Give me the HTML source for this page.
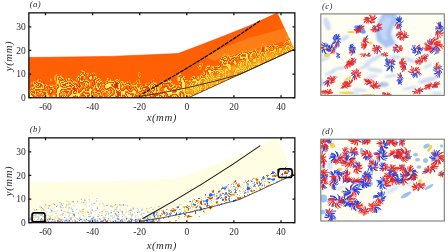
<!DOCTYPE html><html><head><meta charset="utf-8"><style>html,body{margin:0;padding:0;background:#fff;width:448px;height:252px;overflow:hidden}svg{display:block}text{font-family:"Liberation Serif",serif;fill:#2a2a2a}</style></head><body>
<svg width="448" height="252" viewBox="0 0 448 252" style="opacity:0.999">
<defs>
<clipPath id="ca"><rect x="28.85" y="12.85" width="266.0" height="84.9"/></clipPath>
<clipPath id="cb"><rect x="28.85" y="137.85" width="266.0" height="84.9"/></clipPath>
<clipPath id="da"><polygon points="15.0,57.5 28.5,57.4 50.0,57.3 110.0,56.4 145.0,55.0 178.0,53.6 200.0,45.2 225.0,35.6 250.0,25.6 277.4,12.8 294.5,49.3 188.7,97.7 15.0,97.7"/></clipPath>
<clipPath id="db"><polygon points="15.0,182.5 28.5,182.4 50.0,182.3 110.0,181.4 145.0,180.0 178.0,178.6 200.0,170.2 225.0,160.6 250.0,150.6 277.4,137.8 294.5,174.3 188.7,222.7 15.0,222.7"/></clipPath>
<clipPath id="cc"><rect x="320.6" y="13.9" width="123.6" height="81.5"/></clipPath>
<clipPath id="cd"><rect x="320.6" y="139.2" width="123.6" height="81.8"/></clipPath>
<filter id="ft" filterUnits="userSpaceOnUse" x="15" y="5" width="295" height="115" color-interpolation-filters="sRGB">
<feGaussianBlur in="SourceGraphic" stdDeviation="3.5" result="g"/>
<feTurbulence type="fractalNoise" baseFrequency="0.14 0.1" numOctaves="1" seed="4" result="n"/>
<feColorMatrix in="n" type="matrix" values="1 0 0 0 0 1 0 0 0 0 1 0 0 0 0 0 0 0 0 1" result="ng"/>
<feComposite in="g" in2="ng" operator="arithmetic" k2="0.58" k3="1.2" k4="-0.45" result="f"/>
<feComponentTransfer in="f"><feFuncR type="discrete" tableValues="1 1 1 1 1 1 1 1 1 1 1 1 1 1 1 1 1 1 0.95 1 1 1 0.95 1 1 1 0.95 1 0.95 0.9"/><feFuncG type="discrete" tableValues="0.38 0.38 0.38 0.38 0.38 0.38 0.38 0.38 0.38 0.38 0.38 0.38 0.38 0.38 0.62 0.38 0.86 0.47 0.24 0.86 0.47 0.38 0.24 0.86 0.94 0.47 0.24 0.86 0.24 0.14"/><feFuncB type="discrete" tableValues="0.02 0.02 0.02 0.02 0.02 0.02 0.02 0.02 0.02 0.02 0.02 0.02 0.02 0.02 0.1 0.02 0.22 0.04 0.02 0.22 0.04 0.02 0.02 0.22 0.45 0.04 0.02 0.22 0.02 0"/><feFuncA type="table" tableValues="1 1"/></feComponentTransfer>
<feGaussianBlur stdDeviation="0.5"/>
</filter>
<filter id="fbl" x="-0.1" y="-0.1" width="1.2" height="1.2"><feGaussianBlur stdDeviation="2"/></filter><filter id="fbl1" x="-0.2" y="-0.2" width="1.4" height="1.4"><feGaussianBlur stdDeviation="0.8"/></filter>
<filter id="fdots" filterUnits="userSpaceOnUse" x="15" y="130" width="295" height="115" color-interpolation-filters="sRGB">
<feGaussianBlur in="SourceGraphic" stdDeviation="2.5" result="g"/>
<feTurbulence type="fractalNoise" baseFrequency="0.32" numOctaves="1" seed="9" result="t"/>
<feColorMatrix in="t" type="matrix" values="0 1 0 0 0 0 1 0 0 0 0 1 0 0 0 0 0 0 0 1" result="tg"/>
<feComposite in="g" in2="tg" operator="arithmetic" k2="0.7" k3="1.5" k4="-0.78" result="p"/>
<feColorMatrix in="p" type="matrix" values="0 0 0 0 1 0 0 0 0 1 0 0 0 0 1 1 0 0 0 0" result="pa"/>
<feComponentTransfer in="pa" result="mask"><feFuncA type="discrete" tableValues="0 0 0 0 0 1 1 1 1 1"/></feComponentTransfer>
<feColorMatrix in="t" type="matrix" values="2.5 0 0 0 -.75 2.5 0 0 0 -.75 2.5 0 0 0 -.75 0 0 0 0 1" result="tr"/>
<feComponentTransfer in="tr" result="col"><feFuncR type="discrete" tableValues="0.2 0.45 0.45 0.72 1 1 1 0.97 0.95 0.9"/><feFuncG type="discrete" tableValues="0.4 0.62 0.62 0.82 1 1 0.95 0.82 0.55 0.28"/><feFuncB type="discrete" tableValues="0.9 0.95 0.95 0.97 1 1 0.6 0.25 0.18 0.1"/></feComponentTransfer>
<feComposite in="col" in2="mask" operator="in" result="cm"/>
<feGaussianBlur in="cm" stdDeviation="0.35"/>
</filter>
</defs>
<g clip-path="url(#ca)"><g clip-path="url(#da)">
<g filter="url(#ft)"><rect x="15" y="5" width="295" height="115" fill="#000"/><polygon points="15.0,86.0 28.0,85.5 40.0,81.0 49.0,79.0 65.0,77.4 80.0,76.0 88.0,71.0 92.0,69.4 97.0,74.0 100.0,78.8 116.0,80.0 135.0,81.4 148.0,83.5 165.0,81.5 181.0,77.5 192.0,72.5 200.0,68.5 215.0,61.0 225.0,55.0 248.0,51.5 272.0,44.0 289.0,39.5 300.0,36.5 310.0,30.0 310.0,115.0 15.0,115.0" fill="#fff"/></g>
<polygon points="205.0,57.0 225.0,47.0 248.0,38.2 284.0,28.4 300.0,24.0 300.0,37.0 289.0,40.0 272.0,44.5 248.0,52.0 225.0,55.5 215.0,61.0" fill="#ff8a1e" opacity="0.7"/>
<polygon points="185.0,85.6 190.0,84.1 195.0,81.7 200.0,79.3 205.0,76.9 210.0,74.5 215.0,72.1 220.0,69.4 225.0,66.7 230.0,65.3 235.0,63.8 240.0,62.4 245.0,61.0 250.0,59.3 255.0,57.4 260.0,55.5 265.0,53.7 270.0,51.8 275.0,50.0 280.0,48.2 285.0,46.4 290.0,44.7 295.0,42.9 300.0,48.8 185.0,99.7" fill="#ffdc38" opacity="0.55" filter="url(#fbl)"/>
</g>
<polyline points="28.5,57.4 50.0,57.3 110.0,56.4 145.0,55.0 178.0,53.6 200.0,45.2 225.0,35.6 250.0,25.6 277.4,12.8" fill="none" stroke="#f04a00" stroke-width="0.6"/>
<path d="M141,96.2 Q185,90 240,74.3 L296,48.6" fill="none" stroke="#3a3a14" stroke-width="1"/>
<path d="M188.7,97.7 L294.5,49.3" fill="none" stroke="#302000" stroke-width="0.7"/>
<path d="M142.4,93.7 Q205.3,59.1 260.3,20.6" fill="none" stroke="#111" stroke-width="1.3" stroke-dasharray="4,0.8"/>
</g>
<g clip-path="url(#cb)"><g clip-path="url(#db)">
<polygon points="15.0,182.5 28.5,182.4 50.0,182.3 110.0,181.4 145.0,180.0 178.0,178.6 200.0,170.2 225.0,160.6 250.0,150.6 277.4,137.8 294.5,174.3 188.7,222.7 15.0,222.7" fill="#fffde2"/>
<polygon points="15.0,214.0 20.0,213.8 25.0,213.6 30.0,212.8 35.0,210.9 40.0,209.0 45.0,207.9 50.0,206.9 55.0,206.4 60.0,205.9 65.0,205.4 70.0,204.9 75.0,204.5 80.0,204.0 85.0,200.9 90.0,198.2 95.0,200.2 100.0,206.8 105.0,207.2 110.0,207.6 115.0,207.9 120.0,208.3 125.0,208.7 130.0,209.0 135.0,209.4 140.0,210.2 145.0,211.0 150.0,211.3 155.0,210.7 160.0,210.1 165.0,209.5 170.0,208.2 175.0,207.0 180.0,205.8 185.0,203.7 190.0,201.4 195.0,199.0 200.0,196.5 205.0,194.0 210.0,191.5 215.0,189.0 220.0,186.0 225.0,183.0 230.0,182.2 235.0,181.5 240.0,180.7 245.0,180.0 250.0,178.9 255.0,177.3 260.0,175.8 265.0,174.2 270.0,172.6 275.0,171.2 280.0,169.9 285.0,168.6 290.0,167.2 295.0,165.9 300.0,225.0 15.0,225.0" fill="#ffffff" opacity="0.7" filter="url(#fbl)"/>
<g filter="url(#fdots)"><rect x="15" y="130" width="295" height="115" fill="#000"/><polygon points="15.0,213.5 28.0,213.0 40.0,208.5 49.0,206.5 65.0,204.9 80.0,203.5 88.0,198.5 92.0,196.9 97.0,201.5 100.0,206.3 116.0,207.5 135.0,208.9 148.0,211.0 165.0,209.0 181.0,205.0 192.0,200.0 200.0,196.0 215.0,188.5 225.0,182.5 248.0,179.0 272.0,171.5 289.0,167.0 300.0,164.0 310.0,155.0 310.0,240.0 15.0,240.0" fill="#fff"/><polygon points="15.0,125.0 150.0,125.0 150.0,255.0 15.0,255.0" fill="#000" opacity="1"/><path d="M141,222.7 Q185,216.5 240,200.8 L300,172.5 L300,255 L141,255Z" fill="#000" opacity="0.55"/></g>
<path d="M149.0 217.5h.2M126.1 209.0h.2M15.1 211.8h.2M130.6 215.8h.2M45.6 208.1h.2M45.9 210.3h.2M68.9 202.5h.2M105.6 214.6h.2M120.6 211.6h.2M84.7 208.5h.2M46.0 213.8h.2M141.6 213.4h.2M54.5 211.5h.2M98.1 214.4h.2M102.8 204.0h.2M115.2 215.8h.2M51.3 215.6h.2M52.6 207.9h.2M62.4 215.5h.2M41.3 211.7h.2M106.3 214.3h.2M111.6 213.1h.2M92.3 193.7h.2M103.6 204.8h.2M68.0 211.9h.2M102.5 213.6h.2M81.1 213.1h.2M67.1 211.2h.2M25.8 213.4h.2M26.4 217.4h.2M68.1 210.4h.2M51.0 218.7h.2M131.2 216.4h.2M84.6 199.0h.2M139.3 211.4h.2M52.2 210.7h.2M41.1 209.3h.2M74.0 203.4h.2M90.4 211.4h.2M33.0 217.7h.2M91.3 218.4h.2M145.0 211.0h.2M87.5 212.3h.2M21.1 216.7h.2M67.8 201.8h.2M55.6 218.0h.2M116.5 218.5h.2M18.4 212.1h.2M72.1 215.7h.2M68.6 209.3h.2M31.4 213.2h.2M97.3 209.0h.2M155.7 213.9h.2M157.2 213.7h.2M85.2 204.5h.2M158.0 207.6h.2M98.6 217.9h.2M158.5 214.8h.2M115.0 213.1h.2M70.8 213.2h.2M89.7 209.6h.2M86.2 202.8h.2M41.2 212.8h.2M33.7 208.8h.2M113.1 205.8h.2M158.9 210.6h.2M18.5 217.9h.2M46.6 215.3h.2M68.3 216.2h.2M68.5 213.1h.2M130.4 208.9h.2M99.1 209.8h.2M147.9 212.5h.2M124.0 217.7h.2M83.5 216.3h.2M137.1 215.6h.2M103.4 210.1h.2M91.3 207.6h.2M156.8 212.3h.2M21.0 216.7h.2M61.0 205.7h.2M147.2 208.6h.2M63.3 215.4h.2M120.4 210.8h.2M80.7 212.1h.2M81.0 203.9h.2M75.9 212.9h.2M54.0 207.4h.2M74.9 215.4h.2M123.0 218.5h.2M25.8 210.2h.2M89.6 200.6h.2M46.4 215.6h.2M150.6 216.5h.2M106.0 211.4h.2M22.1 210.1h.2M39.4 216.3h.2M138.1 216.2h.2M85.2 214.9h.2M45.9 207.1h.2M30.8 215.6h.2M44.9 214.4h.2M69.3 218.4h.2M112.1 215.9h.2M154.1 218.4h.2M96.8 206.3h.2M25.1 214.2h.2M34.9 217.0h.2M78.4 216.1h.2M57.2 212.0h.2M84.7 202.0h.2M18.5 214.0h.2M86.5 206.0h.2M112.7 215.9h.2M139.4 212.3h.2M121.1 206.3h.2M48.1 217.1h.2M81.6 212.1h.2M67.7 206.8h.2M158.7 208.9h.2M89.0 195.5h.2M36.3 217.4h.2M34.9 215.9h.2M38.2 209.9h.2M52.6 214.9h.2M128.5 211.8h.2M117.0 205.0h.2M146.7 215.3h.2M78.6 213.5h.2M159.4 206.3h.2M43.4 210.8h.2M152.0 212.5h.2M114.7 216.1h.2M73.5 213.2h.2M114.2 210.1h.2M51.7 204.4h.2M101.4 213.3h.2M108.6 208.2h.2M61.2 217.0h.2M135.3 216.0h.2M113.5 205.5h.2M94.9 215.0h.2M124.4 218.1h.2M84.5 205.8h.2M113.8 217.7h.2M76.4 203.0h.2M20.6 212.7h.2M97.1 207.8h.2M125.1 213.4h.2M40.7 213.8h.2M58.2 202.8h.2M91.9 203.5h.2M116.9 208.7h.2M42.1 215.9h.2M154.1 207.7h.2M127.8 211.8h.2M57.6 217.5h.2M121.9 218.3h.2M118.6 211.7h.2M69.4 201.0h.2M141.1 208.0h.2M38.8 214.0h.2M152.1 213.9h.2M75.0 206.1h.2" stroke="#f8e890" stroke-width="1.1" stroke-linecap="round"/>
<path d="M28.6 222.0h.2M101.5 221.2h.2M52.1 219.7h.2M44.4 206.8h.2M106.2 213.6h.2M146.4 208.9h.2M131.0 219.5h.2M35.4 217.2h.2M139.2 212.5h.2M143.7 220.8h.2M129.5 218.5h.2M155.4 217.3h.2M157.1 215.3h.2M132.4 215.1h.2M26.8 214.9h.2M56.0 218.7h.2M131.6 216.1h.2M109.1 220.8h.2M72.2 201.9h.2M147.7 211.5h.2M58.2 218.1h.2M35.4 214.2h.2M30.4 217.9h.2M110.5 212.7h.2M83.1 211.4h.2M48.2 205.5h.2M158.2 217.9h.2M103.2 217.4h.2M87.3 211.1h.2M78.0 219.9h.2M39.9 221.4h.2M155.7 217.6h.2M158.0 218.0h.2M143.5 219.0h.2M59.7 202.2h.2M150.8 212.7h.2M117.5 211.7h.2M36.3 220.4h.2M74.6 219.8h.2M118.8 219.4h.2M32.2 220.5h.2M56.1 213.4h.2M32.2 219.7h.2M159.1 209.6h.2M106.3 214.2h.2M66.8 201.4h.2M27.8 219.8h.2M74.9 221.3h.2M77.4 222.1h.2M135.6 219.8h.2M107.6 205.4h.2M98.4 222.0h.2M63.3 203.3h.2M114.9 205.4h.2M48.8 218.7h.2M34.6 219.8h.2M18.5 213.2h.2M71.1 207.9h.2M70.0 213.4h.2M152.1 221.7h.2M22.5 221.6h.2M45.7 220.8h.2M131.0 209.8h.2M141.3 221.3h.2M130.4 213.9h.2M154.1 218.5h.2M25.9 215.5h.2M92.9 216.9h.2M83.7 216.1h.2M47.8 220.7h.2M24.1 222.2h.2M40.6 213.5h.2M89.2 199.6h.2M40.1 207.8h.2M125.0 222.1h.2M49.8 205.5h.2M96.9 220.8h.2M19.9 218.8h.2M151.3 219.2h.2M41.9 208.7h.2M64.9 211.6h.2M23.5 216.8h.2M57.1 215.9h.2M34.2 209.9h.2M150.6 221.6h.2M61.0 209.9h.2M63.8 211.0h.2M66.1 206.4h.2M51.4 221.8h.2M144.3 220.7h.2M136.1 221.5h.2M133.8 220.6h.2M127.7 222.0h.2M33.0 220.6h.2M17.8 221.3h.2M118.9 211.3h.2M88.9 213.0h.2M136.5 222.1h.2M158.7 214.0h.2M47.9 217.9h.2M65.7 207.5h.2M113.3 211.6h.2M22.0 219.2h.2M90.2 220.7h.2M103.8 217.0h.2M104.9 209.3h.2M94.2 219.6h.2M50.0 216.1h.2M154.9 222.2h.2M126.2 216.7h.2M24.9 210.9h.2M38.3 221.9h.2M65.5 215.0h.2M151.4 219.9h.2M124.9 221.9h.2M90.9 222.1h.2M21.1 221.9h.2M83.0 213.3h.2M39.3 214.2h.2M122.4 222.0h.2M82.0 211.3h.2M46.3 218.9h.2M95.0 222.0h.2M85.1 212.0h.2M26.4 222.0h.2M40.1 221.8h.2M57.6 205.3h.2M156.6 215.1h.2M157.1 216.8h.2M84.5 219.6h.2M33.3 216.8h.2M154.0 211.9h.2M97.2 218.9h.2M63.1 219.6h.2M135.6 222.2h.2M133.3 209.3h.2" stroke="#f2cf3c" stroke-width="1.1" stroke-linecap="round"/>
<path d="M115.5 204.5h.2M81.3 199.3h.2M132.4 214.0h.2M30.3 218.6h.2M96.3 201.0h.2M49.2 205.8h.2M83.5 202.6h.2M106.6 205.4h.2M150.1 218.1h.2M122.0 211.6h.2M150.3 217.3h.2M15.1 214.0h.2M50.4 217.9h.2M68.8 204.1h.2M142.9 217.3h.2M145.9 216.9h.2M104.0 218.2h.2M42.8 208.5h.2M53.2 203.7h.2M118.3 216.3h.2M152.9 209.4h.2M83.1 209.4h.2M121.8 205.1h.2M27.7 218.2h.2" stroke="#f0a040" stroke-width="1.1" stroke-linecap="round"/>
<path d="M37.8 216.7h.2M76.1 222.1h.2M104.1 205.7h.2M40.6 215.5h.2M35.4 222.2h.2M142.6 216.0h.2M55.1 217.1h.2M114.3 217.0h.2M16.6 215.3h.2M151.9 214.9h.2M85.7 204.2h.2M149.2 212.5h.2M43.1 212.7h.2M69.5 215.0h.2M145.9 220.1h.2M149.4 222.1h.2M43.3 216.4h.2M126.0 212.1h.2M69.5 220.2h.2M77.3 201.2h.2M44.5 216.1h.2M121.5 221.8h.2M124.2 220.5h.2M105.4 215.5h.2M126.5 218.1h.2M77.0 221.8h.2M114.4 210.3h.2M147.4 212.0h.2M131.3 218.3h.2M133.5 220.5h.2M85.0 222.0h.2M27.0 215.0h.2M147.9 211.6h.2M16.8 215.3h.2M96.8 222.2h.2M130.9 214.7h.2M119.9 209.2h.2M71.0 217.5h.2M67.4 221.6h.2M135.5 216.2h.2M35.7 216.2h.2M108.0 212.7h.2M124.0 214.9h.2M72.6 213.5h.2M83.5 219.1h.2M22.3 215.0h.2M92.0 210.1h.2M27.6 214.3h.2M153.0 212.2h.2M20.7 212.0h.2M72.0 217.2h.2M48.3 215.3h.2M20.8 216.2h.2M90.3 216.4h.2M20.9 217.1h.2M60.3 215.0h.2M73.8 205.3h.2M140.9 214.9h.2M142.6 208.9h.2M59.7 202.7h.2M42.9 212.9h.2M155.5 219.6h.2M130.5 212.5h.2M33.2 214.8h.2M150.4 217.8h.2M61.9 214.4h.2M16.5 210.8h.2M117.3 206.8h.2M66.3 204.5h.2M28.7 214.4h.2M46.8 211.8h.2M32.0 219.4h.2M77.5 218.7h.2M80.0 217.1h.2M112.4 218.1h.2M83.0 215.6h.2M32.4 222.2h.2M33.8 217.4h.2M127.7 218.3h.2M138.4 209.9h.2M19.1 220.6h.2M72.2 209.4h.2M68.9 216.0h.2M16.3 210.6h.2M32.1 213.8h.2M31.4 220.3h.2M157.2 213.6h.2M146.9 217.8h.2M124.2 219.8h.2M131.8 210.9h.2M127.4 222.1h.2M97.1 220.2h.2M110.3 206.6h.2M97.0 198.4h.2M141.5 214.3h.2M90.6 212.7h.2M91.4 213.4h.2M117.2 216.9h.2M70.2 203.9h.2M38.2 215.9h.2M137.7 221.2h.2M81.7 202.2h.2M56.9 210.7h.2M99.6 204.0h.2M155.7 218.3h.2M131.2 210.1h.2M105.3 211.2h.2M92.6 205.1h.2M91.5 204.0h.2M117.4 217.8h.2M33.6 218.0h.2M32.4 221.1h.2M17.4 214.4h.2M158.1 211.8h.2M116.4 207.6h.2M39.9 212.7h.2M28.8 220.0h.2M158.6 206.4h.2M36.5 214.8h.2M17.6 216.2h.2M96.0 210.5h.2M61.6 207.4h.2M134.4 212.7h.2M88.7 214.5h.2M35.8 216.3h.2M128.2 214.3h.2M53.1 211.7h.2M107.5 211.5h.2M76.0 217.7h.2M122.5 212.9h.2M38.5 218.5h.2M69.0 212.2h.2M46.0 214.3h.2M76.6 209.4h.2M17.2 217.1h.2M20.1 220.1h.2M111.7 216.1h.2M82.0 210.1h.2M118.1 215.3h.2M151.0 207.4h.2M22.2 219.8h.2M102.9 203.3h.2M115.6 213.7h.2M16.6 220.1h.2M72.3 210.8h.2M47.8 219.7h.2M91.0 212.4h.2M26.0 210.7h.2M79.7 210.1h.2M98.9 215.1h.2M68.2 222.2h.2M141.8 213.6h.2M120.4 221.4h.2M24.7 222.1h.2M66.3 218.6h.2M110.4 215.8h.2M50.4 209.2h.2M75.4 221.6h.2M125.8 205.1h.2M138.8 218.2h.2M74.2 216.4h.2M99.4 212.5h.2M31.4 216.2h.2M62.0 214.3h.2M43.0 216.3h.2M66.9 205.0h.2M78.4 212.9h.2M17.2 213.5h.2M49.8 216.7h.2M131.8 215.3h.2M128.9 210.9h.2M89.2 205.9h.2M122.1 214.1h.2M47.1 222.2h.2M111.1 210.4h.2M50.9 212.6h.2M80.1 211.5h.2M129.7 222.2h.2M114.0 211.4h.2M149.9 216.1h.2M67.8 212.8h.2M80.1 219.2h.2M26.5 218.4h.2M30.4 217.4h.2M23.0 215.1h.2M71.2 208.9h.2M25.9 214.8h.2M116.7 211.1h.2M40.0 206.2h.2M125.5 222.0h.2M44.7 217.5h.2M67.0 212.7h.2M92.1 218.0h.2M127.3 205.8h.2M77.7 201.9h.2M125.1 221.8h.2M26.0 220.1h.2M105.0 217.1h.2M93.0 211.1h.2M40.1 214.4h.2M35.7 215.6h.2M148.9 208.2h.2M66.5 205.1h.2M118.9 214.2h.2M52.0 210.9h.2M15.9 221.8h.2M45.5 221.2h.2M103.8 220.9h.2M111.0 205.6h.2M117.3 222.2h.2M63.2 207.7h.2M23.0 213.7h.2M138.0 219.0h.2M41.5 210.2h.2M110.1 218.9h.2M122.5 216.6h.2M34.8 210.0h.2M137.8 208.2h.2" stroke="#a8c8f4" stroke-width="1.1" stroke-linecap="round"/>
<path d="M42.6 222.2h.2M152.6 221.0h.2M38.2 221.4h.2M72.4 220.9h.2M142.7 222.2h.2M110.3 222.2h.2M131.6 221.1h.2M41.1 222.2h.2M46.2 221.2h.2M38.8 221.0h.2M24.1 222.1h.2M141.1 220.7h.2M105.7 220.7h.2M65.8 222.2h.2M54.5 220.0h.2M40.5 220.5h.2M59.5 221.6h.2M89.6 222.2h.2M106.6 221.9h.2M75.1 220.3h.2M61.7 219.7h.2M23.4 222.2h.2M106.8 222.2h.2M58.9 218.7h.2M30.9 219.2h.2M115.7 221.0h.2M34.9 221.6h.2M141.3 222.2h.2M29.9 222.0h.2M41.8 221.2h.2M67.8 219.8h.2M35.4 222.1h.2M141.7 220.3h.2M129.0 220.2h.2M89.6 221.2h.2M151.5 221.3h.2M153.1 221.3h.2M34.9 222.0h.2M107.2 222.1h.2M43.2 220.0h.2M69.1 221.9h.2M105.3 219.5h.2M103.7 222.1h.2" stroke="#f08a28" stroke-width="1.1" stroke-linecap="round"/>
<path d="M60.7 219.7h.2M32.1 221.9h.2M31.9 221.2h.2M17.4 219.1h.2M157.4 222.0h.2M17.8 219.0h.2M135.3 221.6h.2M42.4 221.8h.2M97.5 220.9h.2M52.2 222.1h.2M57.9 220.4h.2M20.3 221.5h.2M101.2 221.1h.2M37.8 219.8h.2M60.2 221.9h.2M28.1 221.7h.2M105.9 221.9h.2M152.9 220.8h.2M118.0 221.2h.2M23.9 219.9h.2M140.1 219.1h.2M115.2 220.2h.2M118.7 219.0h.2M57.4 220.7h.2M100.0 219.3h.2M49.4 219.4h.2M89.5 221.9h.2M159.1 219.8h.2M131.0 221.3h.2M68.0 222.1h.2M144.4 222.0h.2M120.1 222.2h.2M113.6 221.8h.2M130.5 219.1h.2M21.7 222.0h.2M94.4 220.1h.2M22.7 221.0h.2M120.4 220.5h.2M92.9 218.7h.2M152.6 219.4h.2M25.4 220.1h.2M152.3 221.0h.2M82.4 222.2h.2M87.9 220.5h.2M70.7 222.2h.2M50.0 222.0h.2M143.8 222.0h.2M25.6 218.7h.2M51.2 221.7h.2M66.6 220.2h.2M47.5 219.7h.2M35.4 222.2h.2M24.6 221.1h.2M36.4 222.1h.2M142.2 222.0h.2M147.9 221.8h.2M104.2 219.2h.2M146.7 220.4h.2M48.3 221.3h.2M159.9 218.8h.2M82.2 221.8h.2M108.4 218.8h.2M148.6 219.4h.2M66.2 220.8h.2M62.3 221.6h.2M29.1 219.3h.2M28.4 222.1h.2M150.9 221.8h.2M21.6 220.0h.2M136.7 221.3h.2M64.4 222.0h.2M86.3 219.4h.2M58.0 221.7h.2M19.9 220.2h.2M136.9 220.8h.2M30.8 219.3h.2M104.0 219.2h.2M100.4 221.3h.2M153.6 220.9h.2M151.6 222.2h.2M131.9 219.4h.2M32.4 218.9h.2M150.0 221.2h.2M27.4 220.8h.2M85.7 221.1h.2M17.9 222.2h.2M103.0 220.5h.2M36.6 221.8h.2M112.8 222.1h.2M59.1 219.8h.2M57.1 222.2h.2M89.1 220.7h.2M81.7 219.7h.2M90.8 220.0h.2M97.1 221.3h.2M99.8 218.9h.2M147.3 218.9h.2M95.2 219.9h.2M159.7 221.0h.2M55.6 221.2h.2M97.7 221.3h.2M75.1 221.1h.2M149.4 219.7h.2M122.0 220.9h.2M20.9 220.9h.2M31.3 221.1h.2M40.4 219.7h.2M107.0 221.4h.2M147.1 221.2h.2M105.4 220.1h.2M90.4 221.5h.2M65.1 220.6h.2M138.0 219.8h.2M147.7 218.9h.2" stroke="#3f78e6" stroke-width="1.1" stroke-linecap="round"/>
<path d="M157.2 222.0h.2M58.0 221.9h.2M84.1 220.7h.2M23.6 221.9h.2M17.7 220.2h.2M140.5 220.4h.2M24.6 219.5h.2M122.6 221.4h.2M128.6 220.7h.2M60.8 221.0h.2M158.1 221.0h.2M52.8 219.5h.2M42.7 221.0h.2M59.3 221.6h.2M52.7 219.6h.2M92.2 222.1h.2M102.9 221.7h.2M70.8 222.2h.2M88.9 221.8h.2M102.2 221.2h.2M142.4 222.2h.2M139.0 220.0h.2M107.2 220.9h.2M151.4 222.0h.2M110.7 221.0h.2M140.5 221.1h.2M48.6 222.0h.2" stroke="#e04418" stroke-width="1.1" stroke-linecap="round"/>
<path d="M127.9 221.9h.2M139.1 222.0h.2M54.0 221.6h.2M64.5 222.2h.2M20.7 220.9h.2M69.1 220.7h.2M69.5 220.8h.2M127.5 222.0h.2M79.5 220.5h.2M129.8 221.5h.2M146.5 220.0h.2M77.0 222.0h.2M49.8 219.1h.2M152.4 221.3h.2M121.8 219.8h.2M144.8 218.7h.2M45.4 221.5h.2M44.3 221.4h.2M135.8 219.6h.2M41.8 219.9h.2M115.7 221.6h.2M117.7 218.9h.2M135.1 220.3h.2M15.2 222.2h.2M113.3 221.5h.2M146.9 221.8h.2M19.4 219.9h.2M129.7 221.2h.2M131.7 220.0h.2M22.3 220.7h.2M131.4 221.0h.2M24.5 222.0h.2M119.5 222.2h.2M95.1 221.5h.2M126.4 218.9h.2M70.9 218.9h.2M15.8 220.0h.2M24.7 222.2h.2M120.1 221.9h.2M91.9 218.9h.2M80.8 219.4h.2M143.7 221.3h.2M17.5 220.3h.2M106.3 221.9h.2M146.9 220.4h.2" stroke="#2050d0" stroke-width="1.1" stroke-linecap="round"/>
<path d="M41.5 207.3h.2M51.2 210.6h.2M25.0 217.5h.2M43.8 209.7h.2M33.8 215.5h.2M60.2 206.9h.2M17.6 215.8h.2M102.1 211.7h.2M133.1 208.1h.2M123.5 204.9h.2M119.8 204.9h.2M61.1 204.0h.2M27.2 214.7h.2M147.6 216.9h.2M19.6 210.1h.2M74.3 214.0h.2M61.5 210.3h.2M62.1 205.2h.2M118.4 212.5h.2M41.4 218.6h.2M156.5 214.2h.2M42.0 214.5h.2M41.8 215.1h.2M69.1 207.7h.2M73.5 214.7h.2M108.4 214.0h.2M20.3 212.5h.2M74.3 215.4h.2M112.0 206.8h.2M45.6 215.8h.2M141.7 210.0h.2M19.6 212.4h.2M88.1 212.2h.2M88.8 216.4h.2M122.4 212.0h.2M36.5 209.6h.2M115.8 209.2h.2M64.5 217.2h.2M56.4 206.5h.2M62.9 213.7h.2M92.1 210.0h.2M79.5 218.2h.2M156.7 212.4h.2M26.5 210.8h.2M130.1 210.2h.2M16.0 215.0h.2M45.7 205.0h.2M97.2 208.1h.2M111.3 212.5h.2M23.0 214.6h.2M93.5 217.2h.2M54.6 204.7h.2M38.7 218.0h.2M101.8 215.3h.2M19.3 218.5h.2M72.9 211.6h.2M28.7 218.3h.2M115.3 213.2h.2M48.3 208.1h.2M115.9 214.5h.2M84.8 200.1h.2M73.1 201.8h.2M94.0 203.2h.2M137.4 212.5h.2M116.8 215.2h.2M97.9 216.4h.2M143.9 213.3h.2" stroke="#5a8ee8" stroke-width="1.1" stroke-linecap="round"/>
</g>
<path d="M141,221.2 Q185,215 240,199.3 L296,173.6" fill="none" stroke="#303030" stroke-width="0.8"/>
<path d="M142.4,218.7 Q205.3,184.1 260.3,145.6" fill="none" stroke="#1a1a1a" stroke-width="1.1"/>
</g>
<rect x="32.05" y="212.9" width="12.95" height="8.8" rx="2.3" fill="none" stroke="#000" stroke-width="1.6"/>
<rect x="278.2" y="168.9" width="13.9" height="8.6" rx="2.3" fill="none" stroke="#000" stroke-width="1.6"/>
<rect x="28.85" y="12.85" width="266.0" height="84.9" fill="none" stroke="#111" stroke-width="1.3"/>
<text x="45.5" y="109.6" font-size="9.5" text-anchor="middle">-60</text>
<text x="92.6" y="109.6" font-size="9.5" text-anchor="middle">-40</text>
<text x="139.7" y="109.6" font-size="9.5" text-anchor="middle">-20</text>
<text x="186.8" y="109.6" font-size="9.5" text-anchor="middle">0</text>
<text x="233.9" y="109.6" font-size="9.5" text-anchor="middle">20</text>
<text x="281.0" y="109.6" font-size="9.5" text-anchor="middle">40</text>
<text x="25.8" y="101.0" font-size="9.5" text-anchor="end">0</text>
<text x="25.8" y="77.4" font-size="9.5" text-anchor="end">10</text>
<text x="25.8" y="53.7" font-size="9.5" text-anchor="end">20</text>
<text x="25.8" y="30.1" font-size="9.5" text-anchor="end">30</text>
<path d="M45.5,97.7v-2.4M45.5,12.85v2.4M92.6,97.7v-2.4M92.6,12.85v2.4M139.7,97.7v-2.4M139.7,12.85v2.4M186.8,97.7v-2.4M186.8,12.85v2.4M233.9,97.7v-2.4M233.9,12.85v2.4M281.0,97.7v-2.4M281.0,12.85v2.4M28.85,97.7h2.4M294.9,97.7h-2.4M28.85,74.1h2.4M294.9,74.1h-2.4M28.85,50.4h2.4M294.9,50.4h-2.4M28.85,26.8h2.4M294.9,26.8h-2.4" stroke="#111" stroke-width="1.3"/>
<text x="161.8" y="120.6" font-size="10.8" font-style="italic" text-anchor="middle" letter-spacing="0.55">x(mm)</text>
<text transform="translate(12.2,56) rotate(-90)" font-size="10.8" font-style="italic" text-anchor="middle" letter-spacing="0.55">y(mm)</text>
<text x="35.4" y="7.0" font-size="8.8" font-style="italic" text-anchor="middle" letter-spacing="0.3">(a)</text>
<rect x="28.85" y="137.85" width="266.0" height="84.8" fill="none" stroke="#111" stroke-width="1.3"/>
<text x="45.5" y="234.6" font-size="9.5" text-anchor="middle">-60</text>
<text x="92.6" y="234.6" font-size="9.5" text-anchor="middle">-40</text>
<text x="139.7" y="234.6" font-size="9.5" text-anchor="middle">-20</text>
<text x="186.8" y="234.6" font-size="9.5" text-anchor="middle">0</text>
<text x="233.9" y="234.6" font-size="9.5" text-anchor="middle">20</text>
<text x="281.0" y="234.6" font-size="9.5" text-anchor="middle">40</text>
<text x="25.8" y="226.0" font-size="9.5" text-anchor="end">0</text>
<text x="25.8" y="202.4" font-size="9.5" text-anchor="end">10</text>
<text x="25.8" y="178.7" font-size="9.5" text-anchor="end">20</text>
<text x="25.8" y="155.1" font-size="9.5" text-anchor="end">30</text>
<path d="M45.5,222.7v-2.4M45.5,137.85v2.4M92.6,222.7v-2.4M92.6,137.85v2.4M139.7,222.7v-2.4M139.7,137.85v2.4M186.8,222.7v-2.4M186.8,137.85v2.4M233.9,222.7v-2.4M233.9,137.85v2.4M281.0,222.7v-2.4M281.0,137.85v2.4M28.85,222.7h2.4M294.9,222.7h-2.4M28.85,199.1h2.4M294.9,199.1h-2.4M28.85,175.4h2.4M294.9,175.4h-2.4M28.85,151.8h2.4M294.9,151.8h-2.4" stroke="#111" stroke-width="1.3"/>
<text x="161.8" y="249.0" font-size="10.8" font-style="italic" text-anchor="middle" letter-spacing="0.55">x(mm)</text>
<text transform="translate(12.2,181) rotate(-90)" font-size="10.8" font-style="italic" text-anchor="middle" letter-spacing="0.55">y(mm)</text>
<text x="35.4" y="132.2" font-size="8.8" font-style="italic" text-anchor="middle" letter-spacing="0.3">(b)</text>
<g clip-path="url(#cc)">
<rect x="320.6" y="13.9" width="123.6" height="81.5" fill="#fffef2"/>
<g filter="url(#fbl1)">
<ellipse cx="327" cy="24" rx="3" ry="7" transform="rotate(-20 327 24)" fill="#cddcf6" opacity="1"/>
<ellipse cx="325" cy="59" rx="6" ry="1.5" transform="rotate(-20 325 59)" fill="#cddcf6" opacity="1"/>
<ellipse cx="330" cy="73" rx="6" ry="1.5" transform="rotate(-20 330 73)" fill="#cddcf6" opacity="1"/>
<ellipse cx="336" cy="69" rx="5" ry="1.3" transform="rotate(-20 336 69)" fill="#cddcf6" opacity="1"/>
<ellipse cx="375" cy="70" rx="8" ry="2" transform="rotate(10 375 70)" fill="#cddcf6" opacity="1"/>
<ellipse cx="428" cy="80" rx="11" ry="2.5" transform="rotate(-15 428 80)" fill="#cddcf6" opacity="1"/>
<ellipse cx="437" cy="93" rx="6" ry="1.5" transform="rotate(0 437 93)" fill="#cddcf6" opacity="1"/>
<ellipse cx="410" cy="60" rx="6" ry="2" transform="rotate(20 410 60)" fill="#cddcf6" opacity="1"/>
<ellipse cx="360" cy="90" rx="8" ry="1.5" transform="rotate(5 360 90)" fill="#cddcf6" opacity="1"/>
<ellipse cx="345" cy="38" rx="5" ry="2" transform="rotate(-30 345 38)" fill="#cddcf6" opacity="1"/>
<ellipse cx="395" cy="57" rx="6" ry="2" transform="rotate(0 395 57)" fill="#cddcf6" opacity="1"/>
<ellipse cx="342" cy="68" rx="7" ry="1.6" transform="rotate(-15 342 68)" fill="#cddcf6" opacity="1"/>
<ellipse cx="364" cy="67" rx="7" ry="1.6" transform="rotate(-20 364 67)" fill="#cddcf6" opacity="1"/>
<ellipse cx="371" cy="77" rx="7" ry="1.6" transform="rotate(-15 371 77)" fill="#cddcf6" opacity="1"/>
<ellipse cx="391" cy="76" rx="7" ry="1.5" transform="rotate(-10 391 76)" fill="#cddcf6" opacity="1"/>
<ellipse cx="330" cy="73" rx="5" ry="1.5" transform="rotate(-15 330 73)" fill="#cddcf6" opacity="1"/>
<ellipse cx="374" cy="59" rx="12" ry="2" transform="rotate(-30 374 59)" fill="#cddcf6" opacity="1"/>
<ellipse cx="325" cy="55" rx="4" ry="1.5" transform="rotate(-15 325 55)" fill="#cddcf6" opacity="1"/>
<ellipse cx="322" cy="83" rx="3" ry="3" transform="rotate(0 322 83)" fill="#cddcf6" opacity="1"/>
<ellipse cx="410" cy="88" rx="8" ry="1.5" transform="rotate(-10 410 88)" fill="#cddcf6" opacity="1"/>
<ellipse cx="428" cy="66" rx="5" ry="1.5" transform="rotate(-30 428 66)" fill="#cddcf6" opacity="1"/>
<ellipse cx="352" cy="93" rx="8" ry="1.2" transform="rotate(0 352 93)" fill="#cddcf6" opacity="1"/>
</g>
<g filter="url(#fbl1)">
<ellipse cx="383" cy="84.5" rx="6" ry="2.5" transform="rotate(0 383 84.5)" fill="#a6c4f2" opacity="1"/>
<ellipse cx="352" cy="52" rx="3" ry="2" transform="rotate(0 352 52)" fill="#a6c4f2" opacity="1"/>
</g>
<path d="M383,13 L396,13 L398,20 L393,27 L391,34 L396,44 L386,48 L377,41 L375,30 L379,20Z" fill="#a9c5f2" filter="url(#fbl1)"/>
<path d="M386,17 L392,18 L389,26 L386,33 L388,40 L383,40 L380,32 L382,22Z" fill="#c4d6f6" filter="url(#fbl1)"/>
<ellipse cx="360" cy="29.5" rx="6.5" ry="3" transform="rotate(30 360 29.5)" fill="#6f9ff0" opacity="1"/>
<ellipse cx="351" cy="31.9" rx="4" ry="1" transform="rotate(0 351 31.9)" fill="#f6d448" opacity="1"/>
<ellipse cx="347.8" cy="78.7" rx="4" ry="1.2" transform="rotate(-30 347.8 78.7)" fill="#f6d448" opacity="1"/>
<ellipse cx="346.4" cy="92.7" rx="7.6" ry="1.3" transform="rotate(0 346.4 92.7)" fill="#f6d448" opacity="1"/>
<ellipse cx="371" cy="43" rx="1.5" ry="1.5" transform="rotate(0 371 43)" fill="#f6d448" opacity="1"/>
<ellipse cx="327" cy="55" rx="3" ry="2" transform="rotate(0 327 55)" fill="#f6d448" opacity="1"/>
<ellipse cx="368" cy="95" rx="7" ry="1" transform="rotate(0 368 95)" fill="#f6d448" opacity="1"/>
<path d="M337.1 40.4Q338.3 40.4 339.1 41.9M338.0 41.3Q339.1 42.8 339.2 45.9M337.3 41.3Q338.4 43.3 338.1 47.1M337.0 42.2Q337.2 44.5 336.4 47.1M335.6 42.3Q334.6 43.6 333.4 43.7M335.2 42.3Q334.1 43.1 333.0 42.7M335.5 41.4Q334.5 41.8 333.6 41.3M335.4 40.9Q333.9 40.8 333.1 38.4M336.0 40.6Q334.0 40.5 333.3 36.7M335.3 39.4Q334.5 37.9 334.4 35.2M336.4 39.6Q335.9 37.3 336.6 34.2M336.1 39.3Q335.5 37.3 335.8 34.4M336.8 39.3Q337.2 36.9 338.3 34.9M337.0 38.7Q337.6 36.1 339.1 34.2M337.2 38.3Q337.7 36.8 338.5 35.6M337.5 38.6Q338.5 36.7 340.0 36.1M338.0 39.0Q339.3 38.0 340.6 38.7M338.0 39.3Q338.9 38.8 339.8 39.2M337.5 40.1Q339.4 39.6 340.5 42.5M327.3 48.1Q328.8 47.7 329.9 46.4M326.9 49.5Q328.1 50.0 329.6 49.7M325.5 48.5Q327.5 50.2 330.5 49.2M325.9 49.6Q327.5 51.5 330.5 51.2M325.5 49.1Q326.4 50.6 328.2 51.1M324.5 49.1Q323.9 51.3 325.5 53.5M324.3 49.9Q324.1 52.1 325.9 53.9M323.7 49.0Q322.6 50.1 322.5 51.9M323.7 48.9Q322.5 50.3 322.5 52.3M323.7 48.6Q322.5 49.3 321.9 50.8M324.8 47.4Q323.9 44.9 320.8 44.3M324.3 46.4Q323.1 44.8 321.0 44.5M325.4 46.6Q325.5 44.9 324.3 43.3M325.2 46.9Q325.3 43.9 322.0 42.2M326.2 46.0Q326.5 44.6 326.0 43.1M326.0 47.4Q327.5 46.3 327.7 44.2M325.7 47.8Q327.4 47.1 328.2 45.2M332.2 50.8Q332.0 52.4 330.7 53.4M331.5 50.1Q330.6 51.2 329.1 51.1M331.6 49.6Q330.3 51.3 328.2 50.2M331.6 49.1Q329.4 49.2 328.6 45.9M331.5 49.2Q329.3 49.5 328.3 46.3M331.5 48.9Q329.7 48.2 329.6 45.4M331.3 47.5Q330.9 45.5 332.4 43.7M331.4 47.8Q330.8 45.6 332.5 43.6M331.9 48.4Q331.7 46.7 332.8 45.4M332.6 48.0Q334.1 46.6 336.2 48.0M332.4 48.7Q333.7 47.9 335.1 49.0M332.7 48.7Q334.1 48.4 335.2 49.8M352.6 48.7Q353.7 48.5 354.5 50.2M353.1 49.2Q354.0 49.9 354.4 51.8M352.7 51.0Q353.0 53.4 351.5 55.4M351.7 49.9Q351.0 51.2 349.8 51.0M351.5 49.9Q350.5 51.1 349.1 49.8M351.1 49.6Q349.9 49.7 349.1 47.7M351.2 49.3Q350.2 49.2 349.6 47.7M351.6 48.9Q350.2 48.4 350.0 45.5M351.3 47.8Q350.8 46.3 351.2 44.3M351.0 47.9Q350.5 46.7 350.6 44.9M351.7 47.3Q351.6 45.3 352.8 43.9M352.0 47.5Q352.4 45.8 353.5 45.1M352.3 48.0Q353.3 45.8 355.3 47.3M352.4 48.4Q353.8 47.1 355.2 49.5M352.3 48.3Q353.6 46.2 355.4 48.4M352.7 48.9Q354.3 49.3 354.6 52.9M358.0 30.3Q357.2 31.1 355.9 31.8M357.8 28.9Q356.5 28.3 357.7 26.2M358.2 28.6Q357.5 27.4 359.6 25.1M358.8 27.8Q359.1 26.8 360.3 25.6M359.3 27.9Q360.0 26.5 362.1 25.2M372.1 19.9Q373.7 19.6 375.3 18.4M372.4 19.9Q374.6 19.5 376.5 17.6M377.7 28.2Q379.4 28.9 379.1 30.8M377.7 28.3Q378.7 29.0 378.6 30.2M377.4 28.2Q378.9 29.3 377.9 31.2M375.6 28.1Q373.3 27.8 372.9 25.6M375.9 27.7Q374.5 27.1 374.5 25.5M364.9 41.8Q364.9 38.5 367.4 35.9M364.9 40.8Q365.1 38.1 367.0 35.8M377.9 49.1Q379.8 49.9 380.3 52.3M377.3 48.9Q379.3 49.4 380.1 51.6M377.3 49.6Q378.3 51.3 377.2 53.5M376.3 48.0Q376.0 46.6 376.6 45.3M400.4 23.2Q401.1 23.1 401.6 22.5M399.6 23.4Q401.6 24.1 403.2 20.9M400.1 24.4Q400.7 24.9 401.5 24.9M399.7 24.8Q400.2 25.9 401.0 26.4M399.9 25.1Q400.6 26.1 401.5 26.5M398.9 24.0Q398.9 27.7 400.8 30.2M399.1 24.2Q399.4 26.4 400.5 28.0M397.7 22.3Q396.9 22.1 396.1 22.7M398.3 22.7Q396.3 22.4 394.9 25.8M398.2 21.2Q397.4 20.0 396.4 19.7M398.5 21.5Q397.6 19.4 396.0 19.0M398.8 22.2Q398.3 19.9 397.1 18.8M398.8 20.3Q398.5 18.8 397.9 17.6M399.0 21.9Q398.8 19.5 397.7 17.7M399.2 22.1Q399.6 19.9 399.2 17.5M399.4 22.1Q400.3 19.5 399.8 16.0M400.4 21.5Q401.2 20.0 401.5 17.7M399.6 22.3Q400.6 20.9 401.0 18.4M402.7 37.1Q404.8 38.9 408.2 37.3M400.3 34.8Q398.1 34.1 395.9 35.8M395.8 49.3Q394.7 50.0 394.2 51.3M397.0 48.8Q394.4 49.8 394.3 52.4M397.5 47.0Q396.9 46.2 395.8 45.6M398.2 47.3Q398.2 45.9 396.7 44.7M417.8 50.1Q419.6 50.7 420.3 52.8M418.8 50.7Q420.1 51.8 420.1 53.8M417.9 50.9Q419.0 52.5 418.0 54.5M417.7 50.9Q418.8 53.6 415.6 55.6M416.6 51.9Q416.0 52.9 414.5 53.3M416.1 51.8Q414.9 53.0 412.7 52.7M416.0 51.4Q414.8 52.4 412.8 52.0M416.1 50.6Q414.1 51.5 411.8 49.7M415.8 50.7Q413.5 51.3 411.4 49.0M416.1 50.1Q414.4 50.0 413.2 48.3M416.4 50.0Q413.0 49.7 412.8 45.4M415.1 49.3Q414.2 48.6 413.9 47.4M416.2 49.7Q413.9 48.2 414.8 45.1M417.1 49.3Q417.7 47.3 420.5 47.1M417.0 49.3Q417.2 47.6 419.3 46.8M418.3 48.7Q420.1 47.9 422.3 49.0M417.5 49.3Q419.4 47.4 422.6 49.2M418.3 49.5Q420.0 49.3 421.5 50.6M418.6 49.3Q420.5 49.1 422.2 50.7M418.9 50.6Q420.3 51.6 420.5 53.4M436.3 47.6Q438.6 50.0 437.0 53.6M437.0 46.6Q439.3 47.8 440.0 50.3M434.4 47.1Q435.8 48.8 435.1 51.1M434.2 47.5Q435.6 50.7 431.7 53.6M435.3 47.4Q438.2 50.4 434.6 54.6M433.6 47.2Q434.4 50.4 430.1 52.7M433.8 47.4Q434.5 50.4 430.7 52.7M431.5 45.4Q428.0 43.1 429.9 38.8M431.3 44.7Q429.5 42.4 431.4 39.4M440.0 29.7Q441.3 28.7 441.7 25.7M440.6 30.2Q441.9 29.5 442.5 26.4M440.2 31.4Q442.2 32.2 443.7 27.7M439.5 30.8Q440.8 32.6 442.6 30.5M439.9 32.7Q441.4 34.9 443.5 32.8M437.8 29.9Q436.0 30.8 435.6 35.2M438.1 29.8Q436.9 30.0 436.1 32.3M438.2 28.9Q436.9 27.9 435.5 29.8M438.5 28.8Q437.3 26.9 435.6 28.2M438.7 28.8Q437.8 26.0 435.7 26.6M439.5 27.8Q439.6 25.2 438.6 23.0M439.4 27.0Q439.4 25.4 438.9 24.0M439.5 28.8Q440.4 25.8 439.2 22.3M440.1 28.1Q440.5 26.5 440.4 24.4M439.8 29.3Q441.3 26.9 440.6 22.1M351.4 62.0Q352.7 60.3 352.7 58.7M352.1 63.0Q353.6 62.6 355.5 61.3M355.4 74.8Q354.2 75.6 353.6 77.2M354.2 75.5Q352.9 76.7 352.6 78.9M354.4 74.2Q353.3 74.3 352.4 74.9M355.2 74.3Q353.4 73.9 351.7 75.3M328.2 81.7Q326.2 82.8 324.8 85.0M328.6 81.7Q327.0 82.7 325.9 84.3M328.5 81.4Q326.8 82.2 325.3 84.0M329.0 81.0Q327.5 81.2 325.7 82.6M391.1 63.9Q392.6 63.5 394.2 64.5M391.2 65.0Q392.4 65.7 393.2 67.3M391.4 64.8Q393.1 65.7 394.2 68.1M390.7 65.2Q392.8 67.8 392.1 72.0M391.3 66.7Q391.9 68.3 391.8 70.1M391.1 66.9Q391.5 68.5 391.2 70.3M390.0 65.9Q389.7 68.6 387.7 70.0M390.0 66.3Q389.6 69.3 387.2 70.5M389.9 66.8Q389.3 69.6 386.8 70.5M389.6 66.2Q388.9 67.9 387.2 68.6M389.4 65.4Q387.4 67.4 384.5 65.6M388.9 64.9Q387.5 65.2 386.0 64.0M388.8 64.9Q387.2 65.0 385.7 63.5M388.5 64.1Q386.4 63.0 385.4 59.6M388.4 64.0Q387.0 63.1 386.1 61.0M388.3 63.0Q386.8 61.1 386.8 58.0M388.4 63.4Q386.9 61.6 386.6 58.7M389.7 63.7Q389.1 61.5 389.9 59.3M389.3 63.3Q388.6 61.6 388.7 59.6M390.8 62.7Q392.5 60.6 395.3 61.5M390.6 63.9Q392.6 62.6 395.0 64.3M391.7 62.9Q392.6 62.5 393.7 62.7M369.2 83.3Q367.0 83.2 366.4 84.6M369.2 83.5Q367.9 83.6 367.3 84.3M400.7 79.2Q401.8 79.1 402.7 77.5M400.8 79.6Q402.0 80.2 403.2 78.7M400.3 79.8Q401.0 81.1 402.2 81.2M400.5 81.2Q400.9 82.1 401.6 82.6M400.0 80.1Q400.2 81.7 401.0 82.8M399.8 80.2Q399.7 83.1 401.5 84.9M399.5 80.3Q399.1 81.9 399.5 83.8M399.2 79.8Q398.2 81.3 398.3 84.2M399.0 79.1Q398.0 79.6 397.4 81.2M399.6 78.8Q398.2 78.3 397.0 80.2M399.7 78.5Q398.9 77.3 397.8 77.4M400.8 77.1Q401.2 75.0 400.4 72.7M400.6 78.4Q401.5 77.2 401.6 75.0M404.1 64.7Q405.7 65.4 405.9 69.6M403.5 64.9Q404.8 65.1 405.4 68.0M415.9 72.1Q418.8 72.5 420.1 75.3M415.5 72.6Q416.8 74.2 416.4 76.3M415.7 72.5Q417.9 74.4 417.1 77.7M415.4 73.3Q415.6 75.3 414.2 77.0M415.4 73.5Q415.5 75.8 413.4 77.6M414.8 73.7Q414.3 75.2 412.8 76.2M414.1 74.1Q413.5 74.9 412.5 75.4M413.9 73.4Q412.8 74.2 411.3 74.5M422.0 60.8Q421.4 62.6 418.9 64.5M423.0 58.5Q425.2 56.6 428.3 55.8M439.0 69.7Q440.8 69.8 441.8 72.8M439.3 71.1Q440.1 72.2 440.2 74.0M438.9 70.8Q440.5 73.3 439.3 77.4M438.7 71.7Q439.2 74.4 437.7 77.0M437.9 70.9Q437.1 74.2 434.2 73.9M437.5 72.4Q437.0 73.5 436.0 74.1M437.1 72.5Q436.3 73.6 435.0 73.7M436.8 71.3Q435.0 72.3 433.2 69.8M437.5 70.3Q435.3 71.5 433.6 67.5M437.3 70.1Q435.5 69.7 434.7 66.6M438.2 68.9Q439.2 66.2 441.7 66.5M438.6 69.0Q440.4 67.1 442.7 69.5M438.8 69.8Q440.0 69.7 440.9 71.1M432.1 86.2Q433.0 87.6 437.7 87.1M431.6 86.5Q431.7 87.4 433.4 87.9M419.7 90.8Q421.6 90.7 422.7 91.5M419.4 90.8Q421.6 90.6 422.8 91.6M384.6 55.4Q384.7 56.3 386.2 56.9M368.1 54.8Q370.1 54.3 369.9 53.1M367.8 54.6Q369.1 54.0 368.5 53.0M338.8 55.6Q339.5 56.1 339.7 57.6M338.1 55.8Q338.5 57.0 337.9 58.2M337.8 56.2Q337.3 57.1 336.4 56.9M337.5 55.3Q336.8 54.6 336.8 53.0M337.9 55.1Q337.6 54.2 338.0 53.3M338.1 55.1Q338.7 54.2 339.6 54.5" stroke="#1e34e0" stroke-width="0.85" fill="none" stroke-linecap="round"/>
<path d="M336.8 42.8Q336.8 45.0 336.0 47.1M336.4 43.0Q336.1 44.7 335.3 46.3M336.3 43.6Q335.8 45.4 334.9 46.8M326.5 48.7Q328.6 49.2 330.6 47.7M323.4 47.7Q321.1 47.8 319.5 50.1M323.4 47.6Q321.0 47.5 319.2 49.8M323.1 47.3Q321.6 47.1 320.0 48.0M324.2 47.5Q322.3 46.5 320.0 47.6M332.8 49.0Q334.6 49.5 335.1 52.2M332.9 49.5Q334.3 50.8 333.9 53.5M332.3 49.5Q333.3 51.5 331.9 53.7M332.5 50.2Q332.8 51.3 332.4 52.4M353.1 50.3Q353.5 51.4 353.4 52.9M352.0 49.8Q351.7 52.8 349.4 52.8M352.1 50.2Q351.9 52.4 350.3 53.4M360.2 28.2Q362.6 27.0 364.0 28.1M360.0 28.6Q361.6 28.3 362.2 29.2M359.5 29.0Q361.2 29.2 360.3 31.3M359.8 29.0Q361.6 29.4 360.1 32.1M359.5 29.3Q360.6 30.4 358.1 33.0M359.3 29.7Q359.3 31.3 356.3 33.5M358.9 29.8Q358.3 31.2 356.2 32.6M358.7 29.7Q358.2 30.9 356.6 31.9M358.1 29.6Q356.0 30.7 354.6 29.9M358.0 29.7Q355.4 31.0 354.0 29.7M357.1 30.0Q355.4 30.6 354.4 29.9M358.0 29.2Q356.3 29.3 356.2 27.8M359.9 27.9Q361.6 26.4 363.8 26.0M359.4 28.6Q361.4 26.5 364.1 26.4M372.6 18.9Q375.0 17.4 375.1 14.8M372.2 19.1Q374.0 18.3 374.9 16.5M370.6 20.0Q373.1 20.6 376.1 18.1M370.5 20.1Q371.9 20.9 374.3 20.0M370.2 21.1Q371.2 22.7 374.7 22.0M369.9 20.7Q370.4 22.9 374.7 22.2M369.7 21.0Q369.7 22.2 371.3 22.8M369.5 21.0Q369.4 22.6 371.7 23.2M369.6 20.5Q369.2 22.0 370.8 22.9M369.0 20.4Q367.7 21.8 368.1 23.3M368.7 20.2Q367.0 21.3 366.5 23.0M368.9 20.1Q367.0 21.0 366.3 22.8M368.2 19.7Q365.5 20.3 363.9 22.9M367.9 19.6Q365.8 20.1 364.2 21.8M368.9 19.2Q367.3 18.8 365.0 19.9M369.3 18.9Q367.2 17.8 363.6 19.8M369.6 18.4Q368.3 17.0 364.8 17.9M369.8 19.2Q368.8 17.8 365.7 18.4M369.6 18.3Q368.5 17.0 365.5 17.6M371.0 18.2Q371.3 17.1 370.5 16.2M371.1 17.9Q371.5 16.1 369.2 15.2M372.1 18.3Q373.0 17.3 373.2 16.1M371.0 18.9Q373.1 16.4 370.4 14.6M378.5 27.7Q381.1 27.5 382.2 29.6M378.1 27.9Q380.1 27.9 381.0 29.3M377.2 28.5Q377.8 30.3 375.1 32.2M377.4 29.4Q377.3 30.6 375.7 31.9M376.6 29.4Q375.4 31.1 372.5 31.8M376.6 28.4Q374.4 30.5 370.9 29.9M376.3 29.0Q375.3 30.0 373.6 30.5M375.5 29.3Q373.4 30.4 370.9 29.9M374.7 28.4Q373.2 28.4 372.3 27.5M375.2 28.6Q373.8 28.8 372.6 28.3M375.5 27.3Q375.0 26.8 374.9 26.1M376.6 26.6Q376.7 25.2 378.6 23.8M376.7 27.2Q376.5 25.3 379.4 23.6M377.7 26.5Q378.8 25.2 381.0 24.6M377.4 26.9Q378.4 25.2 381.3 24.4M377.9 26.6Q378.6 25.9 379.7 25.5M377.7 27.7Q379.6 27.0 381.4 27.7M365.5 42.9Q366.5 44.4 365.6 47.9M365.7 43.9Q365.9 45.0 365.7 46.5M365.4 43.9Q365.7 46.5 363.9 49.6M365.3 44.1Q365.4 45.8 364.6 47.7M364.9 45.1Q364.5 47.0 363.3 48.5M364.4 44.9Q363.5 47.1 361.9 47.8M364.7 44.0Q363.6 47.1 361.4 47.6M363.7 44.7Q362.7 45.8 361.6 45.5M363.7 44.4Q362.4 45.5 361.2 44.3M363.6 44.0Q362.2 44.7 361.2 42.7M363.6 42.5Q363.1 42.1 362.8 41.2M364.2 42.5Q363.4 42.1 363.2 40.5M364.4 42.1Q363.6 41.3 363.7 39.1M364.4 41.9Q363.7 40.5 364.3 37.6M365.2 40.1Q365.5 39.0 366.0 38.0M365.9 40.0Q366.4 39.2 367.1 38.6M365.8 40.5Q366.7 38.9 368.0 38.6M365.5 41.8Q367.6 39.6 368.9 43.0M365.7 41.9Q366.9 41.2 367.7 42.5M365.5 42.6Q366.4 43.2 366.5 45.4M377.5 50.0Q378.2 51.8 377.1 53.7M376.7 50.8Q376.3 52.4 374.5 53.4M376.5 49.6Q376.1 51.1 374.5 51.8M376.4 49.2Q374.8 51.1 372.0 50.3M375.7 50.5Q375.1 51.1 374.0 51.4M375.1 49.3Q373.8 49.4 372.6 48.6M375.1 49.0Q374.0 48.9 373.0 48.1M375.8 48.6Q373.8 47.6 373.5 44.9M376.0 48.6Q374.1 47.8 373.7 45.3M375.1 47.6Q374.3 46.6 374.3 45.3M376.7 48.0Q376.9 46.5 378.1 45.5M377.1 47.9Q377.9 46.5 379.7 46.1M377.3 47.6Q378.0 46.6 379.2 46.2M377.3 48.1Q378.9 46.7 381.3 47.4M377.2 48.5Q379.6 47.5 381.8 49.6M398.3 25.7Q398.2 27.1 398.4 28.5M397.9 25.0Q397.3 26.7 397.2 29.0M398.1 24.1Q397.2 25.7 396.9 28.2M398.0 24.0Q397.0 25.4 396.6 27.8M402.7 35.9Q406.0 34.7 404.2 30.9M403.0 36.3Q405.0 36.6 406.5 35.0M403.3 36.3Q405.4 36.2 406.6 34.2M402.7 36.6Q404.4 37.6 406.6 36.6M403.2 36.9Q405.9 38.0 408.5 35.4M402.2 37.6Q402.7 38.6 404.1 39.1M401.6 36.7Q400.9 38.6 403.4 40.1M401.4 37.1Q401.1 38.8 403.2 40.1M400.8 36.9Q399.6 38.4 401.0 40.4M400.6 37.1Q399.9 38.2 400.5 39.6M401.4 36.1Q399.4 36.9 399.5 39.1M399.6 36.2Q398.5 36.7 398.0 37.8M400.7 35.8Q398.8 35.9 397.7 37.5M400.9 35.7Q398.7 35.4 397.2 37.5M400.8 34.6Q399.1 33.6 396.6 34.4M401.3 34.6Q399.8 33.1 396.9 33.7M401.8 34.4Q401.1 33.2 399.2 32.7M402.3 35.3Q402.8 32.9 399.0 31.8M402.0 34.3Q401.3 32.6 398.4 32.2M403.0 34.6Q403.5 32.5 400.7 30.9M402.7 35.3Q404.2 32.8 400.3 30.7M403.1 35.8Q404.6 35.2 405.0 33.6M404.4 35.9Q406.6 34.9 406.6 32.3M400.1 48.5Q401.3 48.3 402.4 47.6M399.6 49.1Q400.8 49.3 402.1 49.1M400.2 49.1Q401.4 49.2 402.6 48.8M399.3 49.9Q400.1 50.4 401.3 50.6M399.1 49.7Q400.2 50.5 402.0 50.7M398.0 49.8Q398.4 51.0 399.6 51.8M397.8 50.3Q397.9 51.1 398.6 51.8M397.5 49.1Q396.3 50.8 397.7 52.9M397.0 50.0Q396.7 50.9 397.1 51.8M395.9 48.6Q393.9 49.1 392.8 50.7M395.6 48.3Q394.2 48.5 393.1 49.2M396.4 47.7Q394.9 47.2 393.2 47.5M396.8 47.6Q395.4 46.9 393.6 46.9M398.1 47.6Q398.0 46.4 396.9 45.4M397.9 46.7Q397.3 45.3 395.4 44.4M399.5 47.3Q400.0 46.6 400.1 45.7M399.4 48.2Q400.8 47.7 401.6 46.6M399.0 48.1Q400.9 47.2 401.3 45.3M416.5 49.0Q416.0 46.3 419.4 44.9M416.6 49.2Q416.1 46.4 419.8 45.1M435.8 46.6Q439.5 48.4 438.7 52.8M434.7 46.0Q438.8 46.5 439.9 50.6M433.3 48.1Q433.0 50.3 430.3 51.7M432.6 47.3Q430.6 50.8 424.5 50.0M432.3 47.4Q430.3 49.9 425.8 49.5M433.0 48.2Q432.3 50.3 429.3 51.4M432.4 47.9Q430.5 50.5 425.8 50.4M430.6 48.4Q427.0 50.1 422.3 47.8M432.5 46.8Q430.6 48.9 426.6 48.6M432.0 46.9Q429.3 48.6 425.5 47.4M430.6 46.7Q426.9 47.0 424.3 43.9M431.8 46.2Q427.6 46.5 425.4 42.7M429.3 47.3Q427.4 47.3 425.5 46.4M430.0 46.4Q427.3 46.2 425.4 44.1M429.1 46.0Q427.6 45.5 426.5 44.3M429.6 44.6Q427.9 43.1 427.9 40.7M429.3 44.6Q427.4 43.0 427.6 40.2M431.7 45.0Q428.8 41.2 434.4 37.3M432.2 45.3Q429.1 41.4 435.0 37.5M431.9 44.0Q431.4 41.1 435.2 38.8M432.2 44.2Q431.9 40.3 437.9 38.4M433.1 44.8Q434.2 41.1 440.3 40.9M433.4 45.1Q435.0 42.5 439.6 42.5M432.6 43.0Q433.4 40.4 437.4 39.1M434.4 43.6Q436.6 41.8 440.7 42.2M434.5 44.5Q437.7 42.6 442.2 44.4M434.5 43.2Q435.7 42.2 437.6 41.7M436.0 44.2Q440.1 43.4 443.8 46.7M435.1 45.0Q438.4 44.2 441.5 46.5M436.2 44.9Q439.3 44.8 441.9 47.1M436.0 45.1Q440.2 45.1 442.7 48.9M434.8 46.1Q437.3 46.5 438.8 48.6M439.4 31.7Q440.7 34.9 443.1 33.1M439.0 31.2Q439.6 35.9 442.8 35.3M438.6 31.8Q438.4 35.6 440.5 38.0M438.2 31.2Q437.0 34.1 438.1 38.3M437.9 31.5Q436.8 34.1 437.6 38.0M437.9 30.5Q436.8 31.5 436.4 34.1M439.1 27.4Q438.8 24.1 436.8 22.8M351.8 62.0Q353.7 60.3 354.4 58.2M352.7 62.1Q354.3 61.1 355.7 59.5M351.1 62.9Q353.8 62.2 356.4 59.3M351.1 63.6Q352.6 64.3 355.6 62.7M350.8 63.8Q351.5 64.7 353.4 64.4M350.6 64.0Q351.1 65.3 353.5 64.9M350.4 63.7Q350.5 65.1 352.0 65.3M350.4 63.5Q350.3 65.0 351.8 65.4M349.9 64.6Q349.6 65.8 350.3 66.5M349.5 64.7Q348.8 66.4 349.7 67.4M349.9 63.5Q347.4 65.8 347.3 68.3M349.2 63.7Q346.5 65.6 345.4 68.5M348.5 63.7Q347.4 64.3 346.2 65.2M349.6 63.2Q346.9 63.9 344.4 66.9M348.8 62.9Q347.9 63.1 346.8 63.7M349.7 63.1Q347.9 63.5 345.8 65.2M350.0 62.4Q349.0 61.8 346.9 62.5M350.1 62.0Q349.5 61.3 348.0 61.5M350.1 62.0Q349.2 61.1 346.8 61.8M350.5 61.8Q350.1 60.6 348.3 60.6M350.8 62.5Q351.6 60.3 350.0 59.5M352.1 60.9Q352.9 59.4 352.7 58.2M351.4 61.8Q352.8 59.4 351.4 58.0M357.9 74.5Q359.5 74.1 360.7 72.4M357.5 74.8Q359.6 74.7 361.2 72.5M356.9 75.2Q358.8 76.2 361.0 75.1M357.4 75.9Q358.2 76.4 359.2 76.5M356.3 75.2Q357.5 77.3 360.1 77.6M355.8 76.5Q355.9 77.9 356.7 79.1M355.7 75.4Q355.1 77.2 356.1 79.2M354.8 76.0Q354.1 77.7 354.5 79.7M354.8 76.1Q354.0 77.7 354.4 79.8M355.4 73.9Q353.6 72.4 351.2 73.2M355.1 73.5Q353.6 72.4 351.6 72.8M355.6 73.3Q354.9 71.6 353.1 70.9M355.4 72.8Q354.3 71.0 352.0 70.6M356.1 73.5Q356.0 71.6 354.7 70.2M356.4 73.8Q357.2 71.9 356.4 69.7M356.9 73.2Q357.8 71.2 356.8 68.7M357.2 73.6Q358.5 72.3 358.6 70.1M357.7 74.0Q358.7 73.4 359.3 72.4M332.1 79.2Q333.1 78.0 333.4 76.6M331.5 80.4Q333.7 79.1 335.0 76.7M331.5 80.4Q333.8 78.9 335.0 76.3M331.7 80.4Q333.0 79.6 334.2 78.2M331.2 81.1Q334.2 80.5 336.9 76.8M331.0 81.2Q332.5 81.1 334.4 79.7M330.5 81.3Q331.9 81.8 334.4 80.4M330.6 82.3Q331.6 82.9 333.6 82.2M330.1 81.8Q331.1 83.5 334.9 81.7M329.8 82.7Q330.1 83.8 331.8 83.9M328.6 83.0Q327.6 85.4 329.7 86.3M328.7 82.9Q328.1 84.5 328.9 85.5M329.2 81.6Q326.8 83.8 327.2 86.1M328.1 82.8Q326.5 85.0 327.4 86.8M329.6 80.3Q328.7 79.5 326.6 80.3M328.8 80.3Q326.5 80.2 323.3 83.0M330.2 79.5Q329.8 78.1 327.5 78.4M330.4 79.7Q330.6 77.5 327.5 77.8M330.5 78.9Q330.3 77.8 328.8 77.5M331.3 78.7Q331.6 77.2 330.4 76.5M330.6 80.4Q333.0 77.3 330.6 75.7M347.7 84.1Q350.3 82.2 349.9 80.1M348.1 84.2Q351.4 82.6 352.0 79.5M349.1 84.0Q351.0 83.0 352.4 81.0M348.1 84.4Q351.1 83.5 352.8 80.2M348.0 84.5Q350.2 84.0 352.2 81.7M347.7 85.2Q348.6 85.5 350.1 84.9M346.9 86.0Q347.8 87.1 351.0 85.9M346.7 85.2Q346.6 87.1 349.8 86.3M346.8 86.0Q347.1 86.7 348.5 86.7M345.9 86.0Q345.2 87.8 347.5 88.2M345.6 86.3Q345.2 87.3 345.7 88.0M346.4 84.8Q344.4 86.0 343.8 87.9M344.8 85.4Q343.2 86.4 342.3 88.1M345.8 85.1Q344.1 86.1 343.3 87.8M345.6 85.0Q343.3 86.1 342.2 88.3M346.6 84.4Q343.8 84.2 340.7 88.1M345.9 83.7Q344.3 83.6 342.0 85.2M346.9 83.9Q346.3 82.5 343.1 83.9M347.4 83.7Q347.8 81.7 344.6 82.2M347.3 83.6Q347.2 81.4 342.6 83.2M347.4 83.9Q348.7 81.2 344.7 81.7M347.7 83.6Q348.6 82.0 347.3 81.3M328.9 91.5Q330.8 90.7 330.8 89.2M329.0 91.8Q330.5 91.4 331.4 90.5M328.7 92.5Q330.2 92.5 331.9 91.9M327.4 92.5Q329.0 93.6 332.8 92.5M327.1 92.5Q328.0 93.9 332.0 93.2M326.9 92.4Q327.0 93.4 329.0 93.7M326.4 92.6Q325.6 94.0 328.2 94.7M326.1 92.4Q324.3 93.4 324.9 94.7M325.3 92.5Q324.3 93.0 323.8 93.6M325.0 92.2Q322.8 92.8 322.0 94.3M325.3 91.7Q323.0 91.7 321.0 93.0M326.3 91.2Q324.5 90.4 321.1 91.3M326.8 91.7Q325.6 90.6 322.3 91.3M327.1 91.7Q327.2 90.7 325.5 90.3M327.7 91.5Q328.7 90.5 327.7 89.6M328.5 91.6Q330.3 90.7 330.2 89.4M390.1 63.0Q390.6 59.9 393.3 59.0M390.4 61.7Q391.0 60.1 392.4 59.3M390.5 62.6Q391.7 59.9 394.7 60.1M374.7 85.5Q377.8 86.7 380.1 85.8M375.0 85.7Q377.9 86.8 380.2 86.2M373.0 85.0Q374.7 86.3 377.2 87.1M373.2 86.1Q374.6 87.4 377.1 88.4M372.5 84.8Q374.7 87.3 379.5 88.4M371.7 84.8Q371.9 86.2 374.5 88.1M371.8 85.5Q372.2 86.4 373.6 87.6M371.4 84.5Q370.7 86.0 374.1 88.5M370.9 85.2Q370.9 86.7 374.0 89.0M370.1 84.7Q369.6 85.5 370.4 86.8M370.8 83.4Q366.2 81.7 364.6 84.0M370.7 83.1Q368.4 81.7 365.8 81.5M370.3 82.6Q368.2 81.2 365.5 80.7M369.8 82.5Q367.8 81.5 365.8 81.3M369.9 81.9Q367.3 80.3 363.9 79.8M371.6 83.0Q369.9 80.5 364.7 78.9M371.5 82.4Q370.7 81.3 368.9 80.2M372.2 83.2Q371.9 81.3 368.0 79.1M373.4 82.9Q373.6 81.5 370.9 79.2M373.9 83.6Q374.9 82.8 373.6 80.8M374.9 84.3Q377.0 83.9 376.3 81.6M374.0 84.6Q377.4 85.3 378.1 83.3M373.3 84.3Q377.6 85.0 376.6 81.6M399.8 77.1Q399.3 74.9 397.7 74.1M399.8 77.0Q399.5 75.6 398.7 74.7M400.4 77.4Q400.6 75.6 399.9 73.9M403.8 65.8Q404.9 67.8 404.1 71.2M404.0 66.4Q404.3 67.4 404.3 68.8M403.5 65.9Q404.4 68.9 402.4 71.9M403.2 66.3Q403.2 68.2 402.3 69.5M403.0 67.1Q402.7 69.0 401.4 69.8M402.7 66.2Q401.7 68.3 400.0 67.0M401.9 66.7Q401.3 67.0 400.6 66.6M402.6 65.6Q400.7 67.2 399.4 62.5M402.1 65.4Q400.5 65.2 400.0 61.4M402.1 64.6Q401.3 63.9 401.1 62.0M402.3 64.6Q400.9 63.0 401.5 59.1M402.3 63.9Q401.3 61.1 403.0 57.9M402.5 62.8Q402.4 60.4 403.9 58.7M403.0 64.3Q403.4 60.7 406.0 61.3M403.3 63.9Q404.4 61.3 406.5 63.5M403.7 63.5Q405.1 62.2 406.7 64.8M403.5 64.6Q404.6 64.0 405.6 66.0M415.7 71.8Q418.8 71.4 421.1 73.9M413.9 72.5Q411.9 73.1 409.8 72.3M414.3 72.4Q411.3 73.7 408.1 71.4M413.2 71.8Q411.1 71.2 409.9 69.3M413.7 71.7Q412.0 71.1 411.1 69.4M412.9 70.6Q411.4 68.9 411.7 66.4M413.9 70.7Q413.2 69.4 413.4 67.8M414.7 70.7Q414.6 68.9 416.0 67.3M415.1 71.2Q415.6 68.6 418.8 67.4M415.2 69.8Q415.7 68.7 416.7 67.8M415.3 71.0Q416.1 69.1 418.3 68.2M416.2 70.7Q417.7 69.5 419.9 69.5M417.3 71.2Q418.3 71.1 419.3 71.3M417.1 71.8Q419.4 72.0 421.0 74.0M423.9 58.6Q425.7 58.0 427.2 58.2M423.0 59.0Q425.0 58.1 426.7 58.2M424.6 59.1Q425.5 59.1 426.1 59.5M424.5 59.3Q426.3 59.5 426.6 61.2M423.8 59.6Q425.3 60.1 425.2 61.9M422.5 60.0Q423.1 60.9 422.4 62.4M422.4 60.0Q423.1 61.8 419.9 64.8M420.5 61.5Q418.8 63.1 416.3 64.2M420.9 60.4Q418.6 62.0 415.9 62.4M420.8 60.6Q418.8 62.3 416.0 63.0M420.1 60.7Q417.4 62.0 415.0 61.8M419.9 60.4Q417.4 61.3 415.7 60.6M419.3 60.0Q417.4 60.0 416.7 58.6M420.4 59.4Q418.8 59.0 418.9 57.3M420.8 59.4Q419.4 59.0 419.3 57.5M421.5 59.2Q420.2 58.1 421.8 55.5M421.6 58.2Q421.7 56.4 424.6 54.0M422.8 57.9Q424.6 55.7 428.1 54.2M422.1 59.0Q422.8 57.3 425.1 55.6M422.9 58.8Q424.6 57.6 426.7 57.0M438.2 71.8Q438.1 74.8 435.9 76.3M436.7 68.6Q435.9 66.9 436.2 64.3M436.7 68.6Q435.6 66.3 436.5 62.9M437.2 68.5Q436.4 65.5 438.2 62.4M438.0 67.7Q438.4 65.9 439.6 64.8M438.1 69.2Q438.6 66.6 440.6 65.9M434.5 84.9Q437.9 83.8 439.4 81.7M434.7 85.5Q437.2 85.1 439.8 83.9M434.8 85.2Q437.3 84.6 439.4 83.3M434.1 86.1Q435.3 86.2 436.9 85.9M432.5 85.7Q434.0 86.2 436.9 85.7M432.3 86.1Q433.4 87.1 437.1 86.8M429.7 86.8Q428.3 88.0 428.7 89.1M430.1 86.8Q428.9 88.0 429.7 89.0M430.1 86.2Q427.1 87.4 426.4 89.2M428.7 86.3Q426.7 87.0 425.2 88.2M429.8 86.1Q426.6 87.2 425.3 89.1M430.5 85.7Q426.1 86.5 423.5 89.1M430.8 85.3Q428.4 85.2 425.1 86.3M430.4 85.0Q428.3 84.8 425.3 85.6M431.1 85.0Q429.5 84.5 426.4 85.1M432.0 85.1Q431.7 83.9 429.0 83.8M432.5 84.6Q432.7 83.4 430.6 82.9M433.8 84.4Q435.0 83.4 434.8 82.4M433.8 84.7Q436.4 83.3 436.2 81.7M433.2 85.2Q436.4 84.2 437.8 82.4M418.6 91.1Q420.9 91.7 420.0 93.8M419.3 91.6Q420.3 92.5 419.3 94.0M418.4 92.0Q418.4 92.8 417.4 93.8M418.0 91.6Q417.7 92.4 416.7 93.2M417.2 92.2Q416.0 93.3 413.6 94.0M416.2 92.1Q415.3 92.4 414.4 92.6M416.1 91.5Q414.1 91.9 412.5 91.4M416.6 90.8Q414.8 90.3 415.0 88.7M416.9 90.7Q415.8 90.3 415.7 89.4M417.8 90.6Q417.3 89.4 419.4 87.9M418.0 90.6Q418.1 89.3 420.4 88.0M418.0 90.3Q418.3 89.3 420.0 88.3M418.4 90.6Q420.0 89.3 422.6 88.8M418.5 90.7Q420.3 89.5 422.9 89.3M387.7 94.1Q389.1 93.9 389.9 93.3M387.2 94.5Q388.2 94.7 389.4 94.7M386.6 94.5Q388.2 95.2 391.2 94.7M385.3 94.6Q385.1 95.1 385.9 95.6M384.7 94.3Q383.3 94.9 384.4 95.9M384.9 93.9Q382.7 94.0 381.9 95.2M385.5 93.6Q384.5 93.1 382.4 93.2M386.0 93.6Q385.6 92.8 383.0 92.6M387.4 93.7Q388.5 93.2 388.0 92.3M385.4 54.5Q387.2 54.5 387.8 53.1M385.9 55.3Q386.8 55.6 387.9 55.5M385.3 55.1Q385.9 55.7 387.4 55.8M384.1 54.7Q383.1 55.2 383.1 56.1M383.9 54.2Q382.3 54.1 381.1 55.1M384.3 54.0Q383.2 53.4 381.5 53.8M385.4 53.9Q385.6 53.1 384.3 52.3M385.5 54.3Q386.7 53.7 386.2 52.6M367.5 55.4Q369.2 55.6 370.9 55.1M366.2 55.5Q367.2 56.3 369.9 56.3M364.7 55.6Q364.0 56.4 365.3 57.2M365.0 55.1Q362.8 55.6 363.2 56.9M365.0 54.9Q362.0 54.9 361.0 56.4M365.3 54.4Q363.4 53.5 360.0 54.2M366.1 54.0Q365.8 53.6 364.9 53.3" stroke="#ec1c1c" stroke-width="0.85" fill="none" stroke-linecap="round"/>
<circle cx="336.7" cy="40.5" r="0.9" fill="#f4d840"/>
<circle cx="325" cy="48" r="1.3" fill="#f4d840"/>
<circle cx="332" cy="49" r="0.9" fill="#f4d840"/>
<circle cx="352" cy="49" r="0.8" fill="#f4d840"/>
<circle cx="370" cy="19.7" r="1.0" fill="#d8e8f8"/>
<circle cx="377" cy="28" r="0.9" fill="#d8e8f8"/>
<circle cx="399" cy="23" r="0.9" fill="#f4d840"/>
<circle cx="402" cy="36" r="1.1" fill="#d8e8f8"/>
<circle cx="398" cy="48.5" r="1.0" fill="#a8c8f4"/>
<circle cx="417" cy="50" r="1.2" fill="#f4d840"/>
<circle cx="433" cy="46" r="1.8" fill="#a8c8f4"/>
<circle cx="439" cy="30" r="1.0" fill="#f4d840"/>
<circle cx="356" cy="74.5" r="1.1" fill="#a8c8f4"/>
<circle cx="330" cy="81" r="0.9" fill="#a8c8f4"/>
<circle cx="390" cy="64.5" r="1.2" fill="#f4d840"/>
<circle cx="372" cy="84" r="0.9" fill="#a8c8f4"/>
<circle cx="400" cy="79" r="0.8" fill="#f4d840"/>
<circle cx="415" cy="72" r="1.3" fill="#a8c8f4"/>
<circle cx="438" cy="70" r="1.0" fill="#f4d840"/>
<circle cx="432" cy="85.5" r="0.8" fill="#a8c8f4"/>
</g>
<rect x="320.8" y="13.9" width="123.5" height="81.5" fill="none" stroke="#7a7a7a" stroke-width="1.1"/>
<text x="327.4" y="8.6" font-size="8.8" font-style="italic" text-anchor="middle" letter-spacing="0.3">(c)</text>
<g clip-path="url(#cd)">
<rect x="320.6" y="139.2" width="123.6" height="81.8" fill="#fffef2"/>
<polygon points="347,223 446,180 446,223" fill="#fff"/>
<g filter="url(#fbl1)">
<ellipse cx="392" cy="190" rx="8" ry="2" transform="rotate(-30 392 190)" fill="#d4e2f8" opacity="1"/>
<ellipse cx="410" cy="183" rx="4" ry="1.5" transform="rotate(-30 410 183)" fill="#d4e2f8" opacity="1"/>
<ellipse cx="340" cy="188" rx="5" ry="1.5" transform="rotate(-20 340 188)" fill="#d4e2f8" opacity="1"/>
<ellipse cx="330" cy="165" rx="3" ry="5" transform="rotate(0 330 165)" fill="#d4e2f8" opacity="1"/>
<ellipse cx="372" cy="160" rx="5" ry="2" transform="rotate(0 372 160)" fill="#d4e2f8" opacity="1"/>
</g>
<ellipse cx="415.5" cy="154.7" rx="2.5" ry="1.7" transform="rotate(0 415.5 154.7)" fill="#9fc0f2" opacity="1"/>
<ellipse cx="417.5" cy="159.7" rx="2.5" ry="1.7" transform="rotate(0 417.5 159.7)" fill="#9fc0f2" opacity="1"/>
<ellipse cx="425.5" cy="160.5" rx="2.5" ry="2.5" transform="rotate(0 425.5 160.5)" fill="#9fc0f2" opacity="1"/>
<ellipse cx="419" cy="167" rx="2.5" ry="1.7" transform="rotate(0 419 167)" fill="#9fc0f2" opacity="1"/>
<ellipse cx="426.5" cy="146" rx="3.5" ry="2" transform="rotate(-30 426.5 146)" fill="#9fc0f2" opacity="1"/>
<ellipse cx="441.5" cy="146" rx="1.5" ry="1.7" transform="rotate(0 441.5 146)" fill="#9fc0f2" opacity="1"/>
<ellipse cx="323.5" cy="198.5" rx="3.5" ry="4" transform="rotate(0 323.5 198.5)" fill="#9fc0f2" opacity="1"/>
<ellipse cx="322.5" cy="212" rx="2.5" ry="2.5" transform="rotate(0 322.5 212)" fill="#9fc0f2" opacity="1"/>
<ellipse cx="368.5" cy="185" rx="5" ry="1.7" transform="rotate(-20 368.5 185)" fill="#9fc0f2" opacity="1"/>
<ellipse cx="406" cy="195" rx="6" ry="2" transform="rotate(-30 406 195)" fill="#9fc0f2" opacity="1"/>
<ellipse cx="429" cy="187" rx="5" ry="1.5" transform="rotate(-30 429 187)" fill="#9fc0f2" opacity="1"/>
<ellipse cx="361.5" cy="151" rx="1.5" ry="3.5" transform="rotate(0 361.5 151)" fill="#9fc0f2" opacity="1"/>
<ellipse cx="332.5" cy="145.5" rx="2.5" ry="2.5" transform="rotate(0 332.5 145.5)" fill="#f6d448" opacity="1"/>
<ellipse cx="340" cy="169.5" rx="2" ry="1.7" transform="rotate(0 340 169.5)" fill="#f6d448" opacity="1"/>
<ellipse cx="349.5" cy="140" rx="2" ry="1.2" transform="rotate(0 349.5 140)" fill="#f6d448" opacity="1"/>
<ellipse cx="343.5" cy="191.8" rx="2.5" ry="1.8" transform="rotate(0 343.5 191.8)" fill="#f6d448" opacity="1"/>
<ellipse cx="365" cy="186.3" rx="1.8" ry="1.3" transform="rotate(0 365 186.3)" fill="#f6d448" opacity="1"/>
<ellipse cx="420" cy="181" rx="2" ry="2" transform="rotate(0 420 181)" fill="#f6d448" opacity="1"/>
<ellipse cx="429.8" cy="148.3" rx="1.5" ry="4" transform="rotate(30 429.8 148.3)" fill="#f6d448" opacity="1"/>
<ellipse cx="441.7" cy="172.2" rx="1.5" ry="2.5" transform="rotate(0 441.7 172.2)" fill="#f6d448" opacity="1"/>
<path d="M325.7 145.0Q326.8 146.2 327.1 148.5M324.8 146.7Q325.0 149.1 324.0 151.3M324.3 145.3Q324.9 149.2 322.3 152.0M324.5 146.4Q324.5 148.3 323.8 150.0M324.1 146.3Q323.9 148.0 323.1 149.3M323.7 142.2Q323.6 139.8 324.7 137.8M325.2 142.0Q326.6 140.6 328.5 141.6M330.1 140.7Q330.5 140.4 330.8 139.9M329.8 141.5Q330.7 141.8 331.6 141.1M329.5 141.9Q330.0 142.3 330.7 142.3M329.1 141.7Q329.5 142.8 331.1 143.0M328.7 141.3Q328.1 142.2 328.7 143.4M328.6 141.0Q327.3 141.3 327.0 142.9M328.2 140.4Q326.9 139.8 325.6 141.2M328.8 140.4Q328.2 139.4 326.6 139.5M329.2 139.9Q328.9 138.8 327.6 138.3M329.6 140.1Q329.9 139.0 328.9 137.9M329.5 140.5Q330.4 139.3 329.1 137.7M323.4 160.5Q325.0 163.5 323.1 168.0M323.6 162.2Q323.7 163.8 323.3 165.4M336.0 159.5Q335.6 161.7 337.6 163.6M336.0 158.3Q333.8 159.6 333.6 162.1M335.4 158.0Q332.6 158.4 331.1 160.8M334.2 158.4Q332.7 159.0 331.7 160.2M335.9 158.1Q332.2 158.7 331.3 162.5M335.1 157.1Q332.8 156.2 330.0 157.2M334.8 157.2Q331.8 156.7 329.1 158.7M335.2 157.2Q333.7 156.6 331.8 157.0M334.8 156.5Q332.8 155.6 330.3 156.1M336.0 155.6Q334.7 153.7 331.7 153.1M335.7 156.3Q334.0 154.5 330.8 154.5M336.2 156.2Q334.9 154.0 331.5 153.5M335.9 155.8Q335.1 154.7 333.6 154.1M337.7 155.9Q338.0 153.7 335.9 151.7M337.3 157.2Q338.5 154.9 336.7 152.5M337.7 155.7Q338.0 153.5 335.7 151.5M337.9 156.2Q338.4 154.3 337.2 152.4M337.3 157.2Q338.3 155.6 337.6 153.8M337.6 157.8Q340.5 156.7 341.1 153.7M345.9 161.8Q344.2 161.8 342.8 160.8M346.3 161.9Q344.6 162.0 343.0 161.1M345.8 161.5Q343.7 161.1 342.3 159.3M347.6 160.9Q345.1 159.2 346.2 156.1M346.4 160.1Q345.6 159.2 345.5 157.8M347.3 160.6Q345.1 157.9 348.1 154.6M346.6 159.3Q346.0 157.7 347.1 155.9M346.8 159.1Q346.4 157.0 348.6 155.0M347.5 159.0Q347.6 157.7 348.7 156.4M347.7 159.3Q347.8 157.7 349.4 156.3M349.1 159.5Q350.9 157.4 354.8 157.9M349.2 159.6Q350.3 158.3 352.4 158.0M349.2 159.6Q351.3 157.6 355.3 158.3M346.8 152.3Q347.4 152.8 347.8 153.8M346.0 152.4Q347.1 153.8 346.4 156.2M345.3 151.1Q345.1 149.8 345.9 148.7M355.9 152.7Q356.8 153.4 357.3 154.6M354.5 152.2Q356.1 153.2 356.3 155.4M354.9 153.8Q355.1 155.3 354.1 156.8M354.6 152.9Q355.2 154.4 354.4 156.2M353.8 153.3Q353.2 155.2 351.0 155.9M353.6 152.9Q352.9 153.9 351.5 154.3M353.6 152.3Q352.0 153.6 349.8 152.7M353.0 152.5Q351.9 152.9 350.7 152.5M354.1 140.0Q353.2 138.1 355.7 136.3M354.7 140.5Q354.0 138.9 356.2 137.4M325.2 175.0Q326.5 175.3 327.4 176.9M325.8 175.2Q326.7 175.6 327.3 176.6M325.6 175.6Q327.0 176.7 327.2 179.1M324.7 176.7Q325.0 178.2 324.4 179.8M324.2 175.7Q324.4 177.6 323.2 179.3M323.9 175.8Q323.4 178.1 321.2 178.9M323.7 176.1Q322.5 178.9 319.4 178.3M323.3 176.3Q322.2 177.7 320.3 177.5M323.4 176.3Q322.5 177.7 320.7 177.8M323.5 175.5Q322.0 176.6 320.2 175.5M322.1 175.3Q320.7 175.0 319.7 173.3M323.2 175.2Q321.4 175.2 320.2 173.2M338.5 174.5Q340.9 174.7 342.3 176.9M338.1 175.4Q340.8 176.9 340.0 180.3M337.8 175.4Q339.5 176.1 340.0 178.0M338.7 176.0Q340.5 177.7 339.4 180.6M333.2 175.6Q330.6 175.2 329.3 172.7M334.1 175.3Q331.9 175.0 330.6 173.0M333.3 174.5Q331.8 173.6 331.3 171.8M333.7 174.9Q331.5 174.1 330.9 171.7M333.9 174.5Q332.5 173.7 332.1 172.0M334.5 173.5Q333.8 172.0 334.8 170.3M334.8 172.7Q334.7 171.8 335.4 170.8M335.1 172.7Q335.3 170.8 337.8 169.5M335.8 172.9Q336.3 171.5 338.2 170.5M335.9 174.3Q336.2 172.0 339.5 171.1M336.1 173.9Q336.5 172.3 338.7 171.5M337.1 173.2Q339.6 171.3 343.7 173.1M337.8 173.3Q340.7 172.1 343.9 174.4M337.3 174.1Q339.7 173.1 342.4 174.8M337.1 174.4Q339.5 173.6 341.9 175.3M346.0 174.9Q343.4 175.0 343.4 180.0M345.4 173.4Q344.3 172.7 343.0 173.6M345.8 172.7Q345.3 172.0 344.5 171.7M346.8 174.1Q347.3 171.8 345.7 170.0M347.1 174.2Q348.0 172.7 347.4 170.4M347.3 173.9Q347.8 172.5 347.4 170.6M356.8 167.2Q355.1 165.8 352.8 166.6M356.4 166.5Q355.5 165.8 354.2 165.8M357.3 167.2Q356.2 164.4 352.7 164.7M357.5 165.6Q357.1 164.3 356.0 163.4M357.7 165.8Q357.3 163.9 355.6 162.7M358.1 166.8Q358.8 164.0 356.3 161.5M358.5 165.9Q358.7 164.5 358.0 163.0M365.8 142.2Q365.5 143.1 364.5 143.6M364.2 141.4Q363.0 141.4 361.9 140.5M364.1 141.6Q363.4 141.6 362.6 141.3M364.7 140.9Q363.6 140.5 362.9 139.5M364.4 140.1Q363.6 139.2 363.6 137.9M365.1 140.8Q363.7 140.1 363.3 138.5M365.3 140.0Q364.7 138.5 366.1 136.9M367.9 156.8Q369.3 158.2 371.6 157.9M367.1 156.4Q367.7 158.2 369.8 158.9M366.8 156.6Q366.9 158.4 368.7 159.6M366.2 156.6Q365.9 158.3 367.1 160.0M366.1 155.7Q364.6 157.4 365.6 160.1M366.6 155.5Q365.6 157.0 366.3 158.9M365.3 155.9Q364.4 156.8 364.2 158.3M382.4 155.0Q384.8 154.6 386.2 152.7M381.9 155.6Q383.9 156.5 386.4 156.0M382.4 156.0Q384.1 156.7 386.2 156.4M381.8 155.7Q384.3 157.1 387.6 156.1M381.8 155.7Q384.7 157.7 388.8 156.0M381.4 157.4Q382.6 159.6 385.8 160.4M381.8 156.5Q383.5 158.5 387.0 158.6M381.0 157.1Q381.5 158.7 383.3 159.8M380.9 156.1Q381.1 157.9 383.0 159.3M379.7 156.9Q379.2 158.3 379.8 159.7M379.8 156.4Q379.1 157.7 379.4 159.1M379.7 156.1Q378.1 158.4 379.7 161.2M380.2 154.5Q378.0 153.3 375.2 154.1M379.7 153.8Q378.1 152.8 375.8 152.9M379.4 153.6Q377.0 152.3 373.8 153.2M380.9 154.0Q380.5 152.4 378.7 151.3M380.7 153.5Q380.0 151.7 377.6 150.7M381.1 154.0Q381.0 152.4 379.6 151.1M381.8 153.3Q382.1 152.2 381.6 151.0M381.3 154.4Q382.0 151.9 379.5 149.7M383.0 153.3Q384.3 151.2 382.9 148.5M383.5 153.9Q384.9 152.7 385.2 150.8M382.2 154.4Q384.0 153.2 384.2 151.1M382.3 154.4Q383.8 153.3 384.2 151.4M383.0 155.1Q384.7 154.9 386.0 153.9M384.1 144.9Q385.8 144.6 387.1 143.3M385.4 145.5Q386.8 145.5 388.2 144.8M383.8 145.2Q386.8 145.7 389.2 143.5M384.5 146.6Q385.8 147.4 387.6 147.5M384.2 146.5Q385.2 147.3 386.6 147.7M383.9 146.4Q385.4 147.9 387.9 148.1M383.7 146.6Q384.7 147.9 386.4 148.5M382.3 147.1Q382.2 149.2 384.0 151.0M382.7 145.6Q381.6 148.1 383.6 150.6M382.5 145.6Q380.9 147.9 382.5 150.8M382.0 145.9Q380.4 147.8 381.2 150.5M381.2 146.4Q380.0 147.9 380.3 150.0M382.1 145.4Q380.7 146.4 380.1 148.0M383.6 142.9Q383.6 141.9 383.2 140.9M383.5 144.4Q384.9 142.3 383.7 139.8M383.4 144.5Q384.4 143.0 384.1 141.2M383.6 144.3Q384.5 142.9 384.3 141.1M384.9 144.1Q386.1 143.2 386.6 141.7M384.8 144.5Q386.3 143.7 387.1 142.3M393.5 143.3Q395.4 144.2 397.7 143.0M392.8 142.7Q394.8 143.9 397.4 142.4M391.6 141.4Q390.0 139.4 386.7 140.5M392.6 140.5Q392.7 138.9 391.0 137.6M396.3 155.3Q398.3 156.2 400.8 155.0M395.5 154.9Q396.9 156.2 399.6 155.8M395.8 155.9Q397.1 157.1 399.7 156.9M394.9 155.3Q395.5 157.4 399.0 157.7M394.4 155.8Q394.6 157.8 397.9 158.7M394.9 154.6Q395.0 157.1 398.9 157.5M396.5 153.9Q399.5 152.9 398.7 149.5M374.4 166.1Q377.4 165.7 378.2 161.9M375.4 166.4Q376.7 166.1 377.8 165.0M373.7 167.0Q375.2 168.6 377.8 168.0M373.4 168.1Q374.0 169.4 375.6 170.1M373.7 168.4Q374.5 169.5 376.0 170.0M373.0 167.0Q373.5 170.0 377.4 170.5M372.2 168.0Q372.1 169.4 372.9 170.7M372.4 166.4Q370.9 167.8 371.2 170.1M372.0 166.4Q370.2 167.6 370.2 170.2M372.0 166.9Q370.3 169.2 372.2 172.3M371.2 166.0Q368.6 166.8 368.0 170.3M371.4 166.1Q370.0 166.6 369.2 167.9M370.5 165.9Q369.7 166.2 369.0 166.9M370.9 165.5Q369.6 165.6 368.6 166.4M373.0 163.7Q372.2 161.6 369.6 160.8M373.4 164.6Q373.5 162.7 372.0 161.2M374.6 165.1Q375.8 163.9 375.8 161.8M373.8 165.9Q375.6 165.3 376.4 163.2M374.2 165.3Q376.0 163.8 375.5 160.9M383.6 167.9Q382.8 169.0 381.3 169.2M382.5 168.0Q381.6 168.3 380.6 168.0M382.7 168.3Q381.3 169.1 379.5 168.4M382.5 167.2Q380.6 166.9 379.6 164.7M383.3 167.2Q381.0 167.4 379.7 164.8M383.0 166.7Q381.1 165.8 381.0 163.2M382.6 166.0Q381.6 164.7 382.1 162.6M383.6 166.5Q382.6 165.1 383.4 163.3M383.6 165.5Q383.6 164.3 384.5 163.2M383.4 165.6Q383.3 164.1 384.4 162.8M392.9 170.8Q392.3 172.3 390.5 173.1M392.8 170.4Q392.1 172.3 389.3 173.0M392.7 169.7Q392.0 170.9 390.3 171.5M391.4 170.2Q389.7 171.0 387.6 170.6M391.0 170.0Q390.0 170.2 389.0 170.0M391.5 169.0Q389.8 168.7 388.6 167.4M368.0 175.8Q369.7 175.8 371.1 176.8M368.2 176.1Q370.3 176.5 371.4 178.5M367.8 176.3Q370.2 177.3 370.4 180.0M367.6 176.4Q369.3 177.8 369.0 180.1M365.9 176.8Q364.1 177.6 362.0 177.0M364.9 176.5Q363.8 176.6 362.6 176.0M366.3 176.2Q364.2 176.6 362.3 175.2M366.4 175.9Q364.3 175.5 363.3 173.6M366.0 175.6Q364.6 174.7 364.2 173.2M365.6 174.8Q364.6 173.4 365.1 171.4M365.7 174.6Q364.9 173.4 365.3 171.8M366.5 175.0Q366.0 172.9 367.9 171.0M367.3 174.4Q368.0 172.7 370.3 172.0M367.2 174.7Q367.5 173.7 368.5 172.9M367.8 175.1Q369.6 173.6 372.4 174.2M368.2 174.5Q368.8 174.0 369.7 173.8M367.6 175.8Q370.2 175.4 372.2 177.6M368.9 175.3Q369.8 175.1 370.8 175.4M392.2 175.9Q395.8 176.2 396.4 179.3M389.1 175.0Q387.6 173.3 389.4 171.2M390.3 175.6Q388.4 174.1 390.0 171.9M389.8 175.0Q388.8 173.4 390.5 171.7M390.6 175.5Q389.9 174.1 391.4 172.7M391.3 174.6Q392.6 172.6 396.9 172.7M391.9 174.4Q393.4 173.2 396.3 173.3M392.3 174.7Q394.5 173.6 397.7 174.4M393.4 174.9Q395.9 174.5 398.3 175.8M392.5 175.2Q395.2 174.5 397.9 176.2M392.9 175.3Q395.9 174.9 398.4 177.0M402.8 142.3Q404.2 142.5 405.1 140.5M402.7 143.5Q403.4 144.3 404.6 144.2M401.2 140.4Q400.5 139.6 399.4 139.7M401.7 140.7Q401.1 139.3 399.8 139.1M406.1 154.7Q408.5 153.6 409.1 150.5M406.6 156.4Q408.2 156.7 409.9 155.8M405.6 157.2Q407.5 158.5 410.3 157.9M404.7 156.0Q407.2 158.7 411.4 156.7M404.0 153.4Q403.3 150.0 398.9 149.2M403.8 153.0Q403.0 151.0 400.6 150.0M401.4 167.4Q400.7 166.3 401.2 164.7M401.8 167.6Q401.3 166.0 402.7 164.6M412.7 172.8Q415.0 173.0 416.3 175.5M412.1 173.1Q415.8 174.3 415.2 179.4M412.9 174.0Q415.1 176.3 413.6 180.1M413.2 173.7Q414.8 174.8 415.1 177.1M411.9 174.5Q412.5 176.4 411.2 178.4M411.5 174.0Q412.7 177.8 408.1 180.1M411.8 174.8Q412.2 177.8 409.0 180.0M411.5 174.5Q411.7 178.3 407.0 179.8M411.3 175.3Q410.8 178.5 406.5 179.5M410.7 173.7Q408.3 177.4 403.2 174.6M410.1 174.2Q408.8 175.5 406.6 175.3M410.3 174.0Q408.6 175.5 406.0 174.9M409.4 175.1Q406.7 176.8 403.2 174.6M409.2 173.9Q406.7 174.5 404.5 172.2M410.0 173.4Q406.3 174.2 404.3 169.6M408.3 173.6Q406.8 173.4 405.6 172.1M410.2 173.2Q406.8 173.6 405.2 169.6M408.8 173.0Q405.7 172.1 405.2 168.0M412.3 171.3Q413.6 170.3 415.4 170.4M411.5 172.3Q413.2 170.6 415.9 171.3M411.7 172.2Q414.2 170.3 417.5 172.3M412.8 170.8Q414.0 170.1 415.6 170.2M411.9 172.6Q414.2 172.1 416.2 174.0M413.1 172.8Q415.0 173.1 416.3 175.1M438.9 159.9Q439.9 161.6 440.0 163.8M437.1 159.7Q436.8 162.4 434.7 164.4M435.1 160.0Q433.7 160.9 431.8 161.0M435.7 158.6Q432.7 159.6 429.7 157.4M435.8 158.8Q433.8 159.7 431.6 159.1M434.6 158.9Q432.0 159.2 429.6 157.3M435.5 158.2Q432.9 158.2 430.8 156.1M435.7 157.7Q432.5 156.6 431.3 152.6M436.1 157.6Q433.7 156.1 433.0 152.9M435.1 156.1Q434.2 154.9 434.0 153.3M435.1 156.0Q433.6 153.5 434.2 150.0M436.1 156.7Q434.9 154.7 435.2 152.1M435.8 154.9Q435.5 152.8 436.3 150.7M436.6 155.6Q436.5 153.0 438.2 150.8M436.7 156.0Q436.8 152.5 439.8 150.0M437.5 154.7Q438.1 153.3 439.2 152.2M431.6 168.9Q434.9 169.1 434.7 171.7M432.0 168.9Q434.6 169.2 434.8 171.2M429.1 170.8Q427.8 172.2 425.1 173.3M429.2 169.6Q427.2 171.2 424.1 171.7M428.6 170.0Q426.2 171.4 423.1 171.6M324.0 185.3Q324.9 187.2 326.7 187.9M323.5 184.4Q323.8 186.9 325.7 188.4M323.3 184.4Q323.3 186.5 324.4 188.2M323.2 184.6Q323.0 186.4 323.8 188.1M322.5 181.1Q321.1 179.4 318.8 179.9M334.5 182.9Q336.2 182.2 336.3 178.9M334.7 183.6Q336.3 184.4 337.6 181.7M334.9 183.6Q336.4 184.1 337.6 181.7M334.3 183.7Q335.8 186.5 338.4 183.7M334.1 185.2Q334.5 186.7 335.6 187.5M333.7 184.8Q333.7 186.6 334.8 188.0M333.4 185.4Q333.3 188.1 335.4 189.8M332.9 184.9Q332.5 187.0 333.5 189.4M333.5 183.8Q332.4 186.9 334.7 189.8M333.7 182.1Q332.2 179.2 329.5 181.9M333.7 180.8Q333.0 179.0 331.3 178.8M334.2 180.5Q333.7 177.9 331.6 177.2M334.1 181.2Q333.9 179.7 333.0 178.7M334.5 181.6Q334.8 179.8 334.0 178.0M334.5 182.5Q335.5 180.7 334.9 178.0M335.2 181.7Q336.1 179.5 335.2 176.6M353.2 181.1Q356.6 182.2 362.7 181.8M352.9 181.0Q355.8 182.1 361.5 181.9M350.9 181.5Q350.9 182.1 351.8 182.6M351.8 181.6Q352.6 182.5 356.1 183.2M351.4 181.0Q350.5 182.1 353.7 183.1M350.3 180.8Q347.4 181.4 347.1 182.5M350.3 180.9Q348.5 181.5 348.3 182.3M349.3 180.9Q346.7 181.6 346.7 182.8M347.9 180.7Q343.9 181.2 342.9 182.7M349.6 180.4Q345.7 180.5 343.0 181.5M348.4 180.1Q346.0 180.0 343.5 180.3M354.1 190.4Q357.6 190.0 359.8 192.3M353.0 190.9Q357.4 190.7 358.5 194.4M354.1 190.5Q357.6 190.2 359.5 192.7M353.4 190.9Q357.8 190.9 358.5 194.8M350.6 193.2Q348.7 194.9 345.6 195.6M351.1 192.0Q349.0 193.8 345.6 194.2M350.7 192.7Q348.1 195.0 343.8 195.1M350.5 192.4Q347.6 194.2 343.8 193.8M348.8 191.9Q346.9 192.1 345.3 191.4M350.3 192.0Q346.4 193.5 343.0 191.5M350.4 191.1Q347.8 191.0 346.5 189.2M349.1 190.9Q347.2 190.5 346.2 188.9M349.0 191.0Q346.4 190.4 345.6 188.0M349.2 190.8Q347.1 190.1 346.4 188.1M350.8 190.0Q349.7 188.4 350.8 186.1M350.7 189.5Q349.9 187.6 351.7 185.2M350.9 190.0Q349.0 187.3 353.0 183.5M352.1 189.9Q352.7 187.9 355.2 186.3M352.3 188.3Q353.7 185.5 358.3 184.0M352.3 189.4Q353.9 186.1 359.4 184.8M352.4 190.2Q354.7 187.0 360.0 186.6M353.2 190.0Q357.3 187.6 361.9 189.5M354.5 189.6Q357.3 188.6 360.1 189.5M355.4 189.2Q358.3 188.3 361.1 189.4M338.4 202.0Q342.1 202.4 344.4 198.9M334.4 202.8Q333.0 204.3 333.1 206.5M336.4 200.8Q332.9 197.9 327.9 201.3M337.2 199.8Q336.8 197.5 334.1 196.2M337.1 200.4Q336.4 196.7 330.6 196.4M337.2 200.2Q336.7 196.2 330.5 195.8M339.3 199.3Q339.7 198.1 339.4 196.7M338.8 200.4Q340.4 198.7 339.8 196.3M337.8 201.0Q340.7 198.4 337.7 194.5M348.6 201.8Q351.3 203.7 350.5 206.9M347.7 201.5Q350.3 203.4 349.3 206.4M348.1 202.9Q348.5 204.3 347.6 205.8M347.6 202.5Q348.0 204.9 345.4 206.8M347.4 202.4Q347.6 204.0 346.2 205.5M347.1 202.3Q346.8 204.7 343.8 206.2M347.2 203.2Q346.8 204.8 345.0 206.1M346.8 201.7Q345.9 203.4 343.3 204.4M346.0 201.9Q344.5 203.1 342.0 203.4M344.9 202.3Q341.8 203.4 338.0 202.3M344.9 201.4Q342.8 201.6 340.8 200.9M346.0 201.2Q343.5 201.7 340.9 200.7M343.7 200.3Q342.7 199.8 341.9 199.1M344.2 200.8Q342.4 200.5 340.9 199.4M344.2 200.6Q342.1 199.8 340.8 198.2M345.1 199.6Q343.2 197.6 344.4 194.9M346.3 200.6Q343.2 198.3 344.9 194.7M346.6 199.2Q346.7 197.7 347.9 196.4M347.0 198.5Q347.9 196.3 351.2 195.0M346.8 200.4Q346.4 197.4 350.3 195.4M347.0 200.2Q347.2 197.6 350.8 196.0M347.5 199.7Q348.4 198.3 350.6 197.4M355.8 205.6Q355.6 207.9 359.1 209.1M354.6 206.8Q354.3 208.7 356.6 210.3M354.4 206.4Q353.6 207.7 354.6 209.3M354.8 205.7Q352.5 208.0 355.6 210.9M354.3 205.8Q352.8 207.0 353.3 209.0M353.3 204.4Q350.8 204.6 349.2 206.7M353.5 204.9Q351.4 205.3 350.3 207.0M354.4 204.0Q352.0 203.2 349.3 204.8M355.4 204.4Q352.5 202.4 348.4 204.9M354.5 203.8Q352.1 202.8 349.2 204.1M355.2 204.0Q352.3 202.0 348.1 204.1M356.2 202.9Q355.6 201.6 353.9 200.8M356.0 203.2Q355.6 202.1 354.2 201.4M356.5 204.1Q357.1 202.4 355.2 200.9M356.9 204.2Q358.3 201.9 355.1 199.6M357.4 203.8Q358.2 202.7 357.6 201.3M357.8 204.2Q359.1 203.2 359.0 201.5M357.0 204.5Q359.6 202.3 356.4 199.2M356.8 204.7Q358.7 203.6 358.4 201.4M331.0 215.1Q333.0 215.8 333.5 218.9M331.1 215.6Q332.8 217.1 332.4 220.2M330.5 215.6Q332.4 218.2 330.2 221.8M331.1 216.7Q331.6 218.2 331.1 219.9M331.7 217.2Q332.5 219.8 330.7 222.7M330.4 217.4Q330.2 220.0 327.7 221.4M329.6 216.0Q328.6 218.0 326.2 217.8M329.4 216.4Q327.7 218.7 324.6 217.3M329.2 216.5Q327.7 218.2 325.3 217.5M329.2 215.7Q327.4 216.8 325.3 215.2M328.8 215.5Q327.1 215.8 325.6 214.0M328.8 214.6Q327.0 213.3 326.9 210.2M329.3 215.0Q326.0 214.5 326.0 209.4M330.7 212.5Q332.4 210.1 335.7 211.1M330.9 213.8Q332.5 212.6 334.6 213.6M330.7 214.0Q332.0 212.7 334.0 213.2M331.1 214.7Q334.1 214.7 335.1 219.4M331.8 214.4Q334.4 214.4 335.7 218.1M365.6 183.4Q368.9 184.7 371.3 180.7M365.6 183.6Q368.1 185.2 371.0 182.9M365.9 184.3Q367.0 185.3 368.6 185.3M365.5 184.1Q366.5 185.7 368.6 185.9M365.3 184.1Q366.9 186.8 370.8 185.9M364.9 185.3Q365.3 186.7 366.7 187.7M364.8 183.9Q364.6 185.9 366.5 187.4M364.0 184.1Q363.0 185.9 364.0 188.1M363.0 184.4Q362.0 185.8 362.3 187.8M364.0 183.8Q362.6 185.3 363.2 187.8M363.7 183.7Q362.2 185.0 362.4 187.5M363.7 183.2Q362.1 183.8 361.4 185.6M363.6 182.7Q361.1 182.7 359.7 185.5M364.0 182.1Q362.4 181.2 360.4 182.0M364.2 182.5Q361.8 181.3 359.4 183.6M363.8 181.5Q361.4 180.1 358.5 182.0M364.0 180.9Q363.1 180.0 361.6 179.7M364.5 180.7Q363.5 179.2 361.3 178.8M365.7 181.6Q366.1 179.7 364.7 178.0M365.8 181.1Q366.1 179.6 365.0 178.1M365.5 182.2Q366.5 179.5 363.8 177.1M367.3 182.2Q369.3 180.7 368.9 177.6M383.7 184.0Q384.4 185.9 387.2 186.7M383.0 184.0Q382.3 186.9 386.2 188.8M382.7 184.2Q381.9 186.5 384.5 188.7M381.6 184.8Q380.6 186.9 382.3 189.3M381.3 184.2Q379.8 185.7 380.3 188.0M382.5 183.3Q379.0 184.9 380.2 189.0M381.1 182.9Q379.7 183.2 378.5 184.2M382.0 182.8Q379.6 182.8 377.9 184.8M380.7 183.1Q378.2 183.9 377.3 186.6M381.6 182.3Q379.9 182.0 378.1 182.8M381.8 182.0Q380.1 181.5 378.2 182.0M382.0 181.9Q380.3 181.2 378.1 181.7M381.9 181.2Q379.8 179.9 376.6 180.7M383.5 182.2Q383.1 180.4 380.9 179.3M383.8 180.8Q383.3 178.6 380.4 177.4M384.0 180.6Q383.8 179.7 383.1 178.8M384.4 181.6Q385.2 179.4 382.9 177.2M398.8 180.7Q401.4 180.0 402.4 178.2M397.6 181.2Q400.4 181.2 402.6 179.8M396.9 181.1Q400.6 181.4 403.2 179.4M396.8 181.5Q398.9 182.6 402.0 182.3M397.9 182.1Q399.4 182.7 401.3 182.7M395.6 180.3Q394.2 178.5 390.3 178.2M395.3 180.2Q394.3 179.3 392.3 178.8M396.2 180.3Q396.3 178.9 394.3 177.7M396.5 179.9Q396.7 178.6 395.4 177.5M397.6 179.9Q398.8 178.7 398.0 177.1M396.7 180.5Q398.5 178.9 397.0 176.8M398.0 179.9Q398.7 179.4 399.0 178.7M397.8 180.4Q399.1 179.7 399.6 178.6M381.8 198.3Q383.4 198.1 384.6 196.4M382.4 198.9Q384.5 198.7 386.1 196.2M381.4 198.8Q383.0 199.3 384.7 198.2M380.8 198.4Q382.9 199.1 384.9 196.9M381.5 200.0Q382.5 200.7 383.8 200.7M380.9 199.2Q382.3 200.6 384.4 200.2M381.1 200.6Q381.9 201.5 382.9 201.9M378.3 196.9Q376.8 196.5 375.2 197.4M377.7 196.9Q376.5 196.8 375.3 197.5M379.3 196.8Q377.3 194.4 374.0 196.0M378.3 196.5Q375.8 195.5 373.3 197.9M378.5 196.0Q376.3 194.4 373.4 196.2M379.9 196.8Q379.5 194.6 377.5 193.4M379.8 195.8Q379.4 194.4 378.2 193.4M380.8 195.3Q380.9 193.9 380.2 192.5M380.3 196.3Q380.3 193.8 378.2 192.0M381.8 196.1Q382.7 194.3 382.3 191.9M381.3 195.9Q381.8 194.3 381.3 192.5M380.9 197.2Q383.0 194.5 381.2 190.3M381.6 197.7Q384.3 196.4 384.5 192.0M375.8 207.5Q377.8 207.9 379.1 209.6M374.6 207.8Q377.0 209.5 376.6 212.6M375.7 208.5Q376.8 209.6 377.0 211.2M375.7 208.7Q377.0 210.2 376.8 212.4M375.2 209.2Q375.8 210.8 375.1 212.5M374.7 208.7Q375.3 210.5 374.2 212.4M372.8 208.4Q371.3 209.1 369.4 208.8M374.6 207.2Q378.1 206.2 381.0 209.3M376.3 207.2Q378.7 207.4 380.3 209.4M362.9 209.6Q361.7 208.7 359.9 208.6M363.7 210.4Q362.2 208.7 359.1 208.7M402.6 179.8Q402.1 180.9 401.9 182.4M402.7 178.9Q401.2 180.5 400.9 183.6M403.0 177.9Q401.7 178.0 400.5 179.5M403.4 178.0Q401.8 178.1 400.6 180.0M403.3 177.3Q402.1 176.4 400.6 176.7M403.0 175.5Q402.0 174.1 400.6 173.8M403.3 177.0Q402.3 175.9 400.9 175.8M403.7 177.0Q402.7 174.5 400.5 174.0M414.7 177.6Q415.4 178.4 415.4 179.5M412.9 176.0Q412.4 175.1 412.5 173.9M416.1 186.1Q414.7 185.6 414.0 184.7M417.7 185.8Q417.2 184.5 418.4 183.1M418.1 185.0Q418.5 184.0 419.7 183.1M440.7 174.5Q439.5 174.4 438.7 173.4M441.0 174.1Q440.2 172.9 441.2 171.5M441.8 173.6Q442.4 172.6 444.1 172.4M442.0 173.7Q442.6 173.1 443.6 173.0M442.2 174.2Q443.3 174.0 444.3 174.5" stroke="#1e34e0" stroke-width="0.85" fill="none" stroke-linecap="round"/>
<path d="M324.8 144.2Q327.3 145.6 327.2 151.0M325.4 145.2Q326.4 146.8 326.5 149.5M324.6 144.4Q326.7 146.7 325.9 151.8M323.5 145.9Q322.5 148.4 320.3 148.4M323.6 146.4Q323.0 147.9 321.9 148.7M323.3 145.7Q321.9 148.0 319.6 147.1M323.2 145.4Q321.8 147.1 319.8 146.2M322.9 145.3Q321.7 146.1 320.3 145.3M322.4 144.0Q321.3 143.5 320.5 141.8M322.5 144.2Q321.0 143.7 320.0 141.1M323.2 144.1Q321.8 143.8 320.9 141.8M322.1 143.2Q320.5 141.5 320.4 137.5M322.6 142.1Q321.7 139.6 322.5 136.3M323.3 141.7Q322.9 138.3 324.9 135.5M323.3 142.3Q322.6 139.9 323.5 137.1M323.8 141.5Q323.9 140.0 324.5 138.6M324.2 142.5Q324.9 140.0 326.8 139.2M325.2 141.8Q326.1 140.8 327.3 140.9M325.4 141.9Q326.5 141.0 327.8 141.4M325.3 143.7Q327.1 143.9 328.2 146.7M324.7 143.8Q327.2 143.8 328.2 148.6M328.8 141.5Q328.4 143.0 330.3 144.0M323.5 160.1Q324.7 160.9 324.9 164.0M323.9 160.7Q325.3 163.2 324.1 167.7M323.5 162.5Q323.4 165.1 322.1 166.8M322.9 160.8Q322.5 163.7 320.7 163.8M322.4 162.1Q321.2 164.2 319.3 162.2M322.8 160.9Q321.4 164.0 319.2 161.0M322.1 161.3Q320.9 162.0 319.7 160.0M321.8 161.5Q320.6 161.9 319.6 159.9M322.0 160.3Q320.6 159.8 320.1 156.3M322.3 159.6Q321.3 158.5 321.2 155.5M322.3 159.3Q320.9 156.5 322.4 152.1M322.7 158.9Q322.4 157.0 323.1 155.1M322.8 157.9Q322.9 154.4 325.2 153.5M322.7 157.9Q322.8 155.3 324.4 153.9M323.6 157.7Q324.5 156.1 326.0 156.8M323.4 158.6Q324.0 157.2 325.1 157.3M323.8 159.1Q325.3 158.3 326.4 161.5M323.6 159.4Q325.1 158.5 326.2 161.9M338.3 158.2Q340.2 158.1 341.8 156.9M339.2 158.8Q341.8 158.9 344.0 157.3M338.6 159.0Q339.9 159.4 341.5 159.2M337.5 158.3Q340.5 159.0 343.2 157.0M337.7 158.4Q339.9 159.0 342.2 158.0M337.8 159.6Q339.5 161.1 342.4 161.2M338.5 159.7Q339.5 160.3 340.9 160.5M337.2 159.0Q338.3 160.5 340.7 161.0M336.8 160.5Q337.3 161.7 338.6 162.7M336.4 160.1Q336.5 161.2 337.4 162.2M335.6 159.8Q335.2 161.3 336.0 162.9M336.6 158.9Q336.9 161.8 340.7 163.2M336.1 158.5Q333.7 161.0 336.0 164.5M335.7 158.7Q334.0 160.3 334.4 162.7M335.8 158.4Q333.5 159.9 333.6 162.6M339.5 157.8Q341.9 157.0 343.1 154.6M339.0 158.2Q341.9 157.8 343.6 155.3M351.1 161.7Q353.5 162.7 354.0 165.6M350.2 161.3Q351.7 161.6 352.9 162.7M351.2 161.8Q352.8 162.7 353.5 164.5M350.0 162.1Q352.4 164.1 350.8 167.5M350.5 162.5Q351.8 163.8 351.5 165.8M349.1 162.0Q350.5 163.8 349.3 166.2M349.1 162.1Q350.8 164.8 347.8 167.6M348.5 162.1Q348.7 164.7 345.4 166.2M349.1 163.4Q349.1 165.0 347.7 166.3M348.6 163.5Q348.1 165.5 345.4 166.7M348.2 162.0Q347.2 165.5 341.8 165.3M347.8 162.1Q345.6 164.5 341.3 163.3M346.8 162.6Q344.1 163.9 340.7 162.1M346.3 162.9Q345.0 163.4 343.4 163.3M347.5 162.2Q344.9 164.3 340.7 162.5M345.4 161.8Q343.3 161.6 341.7 159.9M346.8 161.0Q344.3 160.1 343.8 157.5M347.4 161.0Q344.7 159.8 344.9 156.8M349.5 160.2Q351.9 158.7 355.3 160.0M349.7 159.6Q351.6 158.4 354.5 158.9M349.1 160.9Q352.7 159.6 355.7 162.9M350.2 160.3Q351.6 159.9 353.2 160.3M350.8 161.3Q353.1 161.8 354.3 164.0M346.0 153.1Q346.4 155.2 344.7 157.0M345.6 153.2Q345.4 155.1 343.6 155.9M345.6 153.5Q345.4 154.5 344.7 155.3M345.3 153.3Q344.9 154.2 344.0 154.7M344.6 153.2Q344.0 153.6 343.3 153.4M344.3 153.0Q343.5 153.1 342.7 152.6M344.8 152.1Q343.0 151.7 342.7 148.5M344.2 151.3Q343.8 150.8 343.5 150.0M344.7 151.0Q344.0 149.3 345.0 147.2M345.2 150.5Q345.2 148.3 347.1 147.3M345.8 150.1Q346.4 148.6 348.1 148.5M346.7 150.9Q347.8 150.5 348.9 151.6M346.5 151.2Q348.2 150.8 349.4 153.2M355.5 152.0Q356.9 152.2 358.0 153.6M353.1 152.2Q351.5 152.2 350.1 150.9M353.5 152.0Q351.0 152.0 349.9 149.3M353.1 151.7Q351.0 150.4 351.2 147.4M353.3 151.1Q352.7 150.0 353.0 148.6M353.8 151.5Q353.1 148.9 355.9 147.0M353.9 151.2Q353.7 149.1 355.8 147.6M353.6 150.3Q353.7 148.8 354.9 147.6M354.6 150.1Q355.3 148.9 356.8 148.4M354.6 150.7Q355.5 149.5 357.2 149.2M355.6 151.4Q356.9 151.3 358.1 152.1M354.9 152.0Q357.1 152.2 358.2 154.6M356.5 140.7Q358.7 140.6 360.4 142.0M356.4 141.6Q358.4 142.9 357.3 145.3M356.0 141.4Q358.2 142.6 357.5 144.9M355.5 141.5Q356.3 143.0 354.9 144.5M355.8 142.6Q355.9 143.8 354.6 144.9M355.6 142.6Q355.5 143.3 355.0 144.0M354.5 142.2Q353.7 143.1 352.2 143.6M354.4 142.1Q353.4 143.2 351.1 143.4M353.3 141.5Q350.7 141.8 348.6 140.0M354.2 141.4Q352.2 142.1 349.9 141.2M353.9 141.1Q350.7 141.0 349.5 138.3M353.2 140.8Q351.9 140.5 351.1 139.6M353.3 140.5Q351.4 139.4 351.8 137.2M355.5 139.7Q356.3 138.8 357.8 138.4M355.3 140.0Q356.5 138.4 359.7 138.3M355.3 140.3Q356.6 138.7 359.8 138.8M356.1 140.6Q359.0 140.1 361.3 142.1M355.7 140.6Q358.2 139.8 360.9 141.3M324.5 177.2Q324.4 179.1 323.0 180.7M322.7 174.1Q321.6 172.7 321.7 170.5M322.8 174.5Q321.5 173.6 321.1 171.4M323.3 174.1Q322.3 172.4 322.9 170.0M323.3 174.1Q322.3 172.2 323.2 169.6M323.4 173.2Q323.2 171.1 324.6 169.2M323.9 174.0Q324.2 170.7 327.4 169.8M324.0 173.4Q324.3 171.7 325.6 170.6M324.9 173.2Q325.6 172.4 326.6 172.1M324.7 173.4Q326.2 171.4 328.9 172.3M325.5 174.1Q326.9 173.8 328.2 174.9M324.6 174.6Q326.1 174.0 327.6 175.3M338.1 176.8Q339.1 178.9 336.9 181.2M336.4 175.8Q337.1 178.9 332.4 180.3M336.3 175.9Q336.7 178.8 332.2 180.0M336.0 175.9Q335.5 178.0 332.4 178.7M335.5 177.4Q334.8 178.4 333.2 178.9M335.7 176.0Q334.8 177.5 332.5 177.9M334.6 176.4Q332.5 177.6 329.7 176.5M335.4 175.6Q333.8 177.0 331.2 176.4M338.5 174.4Q339.8 174.6 340.9 175.3M347.4 175.3Q349.3 175.1 350.0 171.8M347.3 175.4Q348.7 175.8 349.8 173.8M346.9 175.2Q348.4 175.7 349.5 173.7M346.7 175.7Q347.7 177.9 349.9 177.2M346.7 177.5Q347.3 179.1 348.9 179.5M346.4 177.2Q346.7 178.7 347.8 179.6M345.7 176.9Q345.5 178.2 346.0 179.5M346.0 176.3Q345.7 179.0 347.8 180.8M346.0 175.8Q345.0 177.9 346.3 180.4M345.7 175.7Q344.3 177.7 345.5 181.0M345.0 174.7Q343.3 175.2 342.7 178.4M346.3 173.7Q345.5 171.1 342.9 171.7M346.8 173.4Q346.7 172.0 345.9 170.9M347.1 174.6Q348.9 172.2 346.9 168.3M358.6 167.6Q359.8 167.0 360.5 165.5M358.9 168.0Q361.0 167.6 361.9 164.9M359.5 168.8Q360.8 168.8 362.0 167.9M358.4 168.7Q360.1 169.6 362.1 168.4M358.3 170.1Q359.4 171.5 361.4 171.7M357.5 168.8Q357.9 170.7 359.7 171.8M357.7 169.1Q358.4 171.6 361.3 172.1M356.9 169.5Q356.5 171.8 358.2 173.7M356.8 169.1Q355.9 171.1 357.1 173.4M356.5 169.0Q355.4 170.7 356.0 173.2M355.5 168.9Q354.1 170.1 353.9 172.5M356.7 168.2Q354.8 168.9 354.1 171.3M356.8 168.1Q355.3 168.5 354.4 170.2M356.6 167.4Q354.8 166.5 352.9 167.8M359.0 166.8Q360.2 165.2 359.8 162.7M358.5 167.2Q360.2 165.2 359.1 162.0M359.2 167.2Q360.1 166.5 360.6 165.3M367.8 141.2Q369.2 141.7 369.8 143.2M366.8 141.1Q368.1 141.5 368.7 142.7M366.5 141.2Q367.8 141.8 368.1 143.3M366.5 141.3Q367.9 142.3 367.7 144.1M366.9 141.9Q367.7 143.0 367.2 144.4M366.2 142.3Q366.1 143.4 365.0 144.3M366.0 141.6Q365.7 144.0 362.2 144.3M365.8 141.7Q365.0 143.1 362.9 143.3M364.9 142.1Q363.9 142.8 362.4 142.6M365.3 139.7Q365.1 138.3 366.4 137.0M366.1 139.4Q366.3 138.7 367.0 138.2M366.0 140.2Q366.2 139.0 367.4 138.3M366.6 140.0Q368.0 138.6 370.5 139.1M366.4 140.6Q367.5 139.7 369.2 139.9M367.4 139.8Q368.4 139.3 369.6 139.5M366.5 140.6Q368.5 139.4 370.9 141.0M367.6 140.7Q368.9 140.7 370.0 141.7M368.0 155.2Q370.1 155.1 371.4 153.0M368.0 155.3Q369.7 155.4 371.1 154.1M368.9 155.6Q370.2 155.6 371.3 154.8M367.6 155.5Q369.1 156.2 370.8 155.6M368.1 156.1Q370.1 157.4 372.6 156.0M368.0 156.1Q369.7 157.3 372.1 156.3M366.4 155.1Q364.8 155.6 364.0 157.4M365.2 155.4Q363.7 156.3 363.2 158.5M365.9 154.5Q363.7 153.9 361.8 156.0M365.1 154.0Q363.9 153.8 362.5 154.4M365.8 154.4Q363.7 153.9 361.8 155.7M365.7 153.6Q363.9 152.6 361.7 153.6M366.5 153.1Q365.3 151.4 362.8 151.3M366.7 154.2Q365.9 152.9 364.2 152.5M367.1 154.4Q366.9 151.4 363.2 150.6M367.4 153.2Q367.4 152.2 366.9 151.3M367.5 152.9Q367.3 151.0 365.4 149.7M367.6 153.8Q368.2 152.1 366.9 150.3M367.3 154.5Q368.4 152.6 367.0 150.3M368.3 154.3Q369.6 153.2 369.6 151.1M367.9 154.9Q369.9 154.4 370.7 152.1M383.5 154.9Q385.8 154.3 387.1 152.3M379.9 155.6Q378.3 156.7 377.9 158.6M379.1 156.1Q377.0 158.0 377.8 161.0M380.0 155.2Q377.6 156.0 376.6 158.2M378.8 155.2Q377.2 155.7 376.1 157.0M378.6 154.3Q377.1 154.2 375.6 154.7M379.3 154.1Q377.0 153.4 374.5 154.4M382.4 146.0Q381.8 147.7 382.5 149.5M380.6 144.5Q379.7 144.5 378.9 144.8M381.7 145.1Q380.1 145.4 378.9 146.4M381.1 143.6Q380.3 143.2 379.4 143.1M381.1 143.7Q379.1 142.9 376.7 143.6M381.1 143.6Q379.5 143.0 377.7 143.3M382.3 143.8Q380.7 142.0 377.7 141.9M381.9 143.1Q381.3 142.5 380.5 142.0M382.8 143.4Q382.1 141.3 379.6 140.2M394.0 141.6Q395.8 140.5 395.8 138.1M392.8 142.3Q395.2 142.9 397.0 140.8M392.2 142.7Q393.5 144.8 396.8 144.4M392.5 143.6Q393.9 145.3 397.0 145.0M391.9 142.6Q391.7 145.4 395.7 146.3M391.8 143.0Q391.8 145.1 394.5 146.3M391.8 142.6Q391.7 144.1 393.1 145.3M390.2 143.1Q389.5 144.0 389.5 145.3M390.7 142.3Q389.3 142.9 388.8 144.6M390.7 142.2Q389.4 142.6 388.7 143.8M391.1 141.8Q388.7 141.6 387.2 143.9M390.8 141.6Q388.3 141.3 386.6 143.7M390.3 140.9Q388.5 140.4 386.6 141.6M391.3 141.2Q390.2 140.3 388.5 140.4M391.2 141.2Q390.0 140.4 388.2 140.7M391.7 140.5Q390.6 138.5 387.3 138.6M392.6 141.1Q393.2 139.5 391.9 137.9M392.7 140.9Q393.3 138.9 391.1 137.2M393.0 141.0Q394.2 139.3 392.7 137.1M392.6 141.7Q394.6 140.2 393.5 137.5M397.4 153.6Q399.4 152.5 399.1 150.0M396.2 154.3Q398.5 154.3 399.8 152.2M397.0 154.5Q399.0 154.3 400.3 152.6M394.6 154.7Q394.0 157.3 398.1 158.4M394.7 154.6Q394.1 156.6 396.8 157.9M394.5 154.4Q393.3 155.7 394.4 157.5M394.1 154.7Q392.7 156.3 394.5 158.4M392.8 154.0Q391.2 154.4 390.4 155.9M393.7 153.8Q391.8 153.8 390.6 155.4M392.6 153.7Q390.5 154.1 389.6 156.2M393.2 153.4Q391.0 153.3 389.4 155.2M394.6 153.5Q392.0 151.6 388.5 154.1M394.0 153.4Q392.3 152.8 390.3 153.8M394.2 152.9Q393.0 151.9 390.8 152.2M394.9 153.4Q394.2 151.9 391.8 151.7M394.5 152.1Q393.2 150.6 390.2 150.8M395.1 153.4Q395.3 151.9 393.4 150.9M395.5 152.3Q395.4 151.1 393.9 150.1M396.4 153.1Q397.8 151.4 395.9 149.1M396.1 153.5Q397.4 152.5 397.1 150.8M397.2 153.0Q398.6 151.5 397.5 149.3M373.8 166.2Q375.9 166.4 377.4 164.5M374.8 167.4Q376.5 168.0 378.5 167.1M373.0 166.8Q373.3 169.4 376.4 170.4M371.6 165.0Q369.8 164.4 367.9 165.5M371.7 164.1Q370.5 163.3 368.9 163.4M372.8 164.8Q372.1 162.7 369.5 162.1M373.0 164.0Q372.3 161.7 369.4 160.9M373.4 165.1Q374.2 161.9 370.5 159.9M374.1 164.4Q374.9 162.2 373.0 159.9M385.1 167.2Q386.4 167.8 386.9 169.4M385.4 167.3Q386.4 167.7 386.9 168.8M384.9 167.6Q385.8 168.6 385.8 170.1M384.8 167.5Q385.9 168.6 385.7 170.3M384.3 167.7Q384.9 169.7 383.0 171.4M384.1 167.8Q384.2 169.7 382.2 170.9M384.2 168.1Q384.2 169.4 383.2 170.4M383.9 168.1Q383.1 170.4 380.0 170.5M384.0 166.0Q384.2 164.8 385.4 164.0M384.2 165.7Q384.7 164.6 385.9 164.0M384.2 166.4Q385.2 164.5 387.7 164.6M384.9 166.2Q386.3 165.5 387.9 166.2M385.2 166.5Q386.9 166.2 388.4 167.8M384.9 166.8Q386.5 166.8 387.7 168.2M395.2 169.2Q396.6 169.7 397.6 170.9M394.5 169.7Q396.5 171.1 396.0 173.8M393.6 169.3Q395.0 170.2 395.3 171.8M393.7 169.9Q394.3 171.1 393.8 172.5M394.0 169.9Q395.2 171.5 394.2 173.5M393.6 169.9Q394.1 171.1 393.6 172.4M391.0 169.9Q389.4 170.2 387.8 169.7M392.4 168.9Q390.2 168.6 389.1 166.9M392.5 168.7Q390.7 167.4 391.0 165.2M391.9 168.4Q390.2 166.9 390.7 164.6M391.9 167.6Q391.4 166.5 391.8 165.3M392.6 168.0Q392.3 166.7 393.2 165.4M392.9 167.7Q393.1 166.7 394.0 165.8M393.1 167.6Q393.6 166.2 395.5 165.3M393.8 168.4Q395.3 167.4 397.4 167.6M393.6 168.7Q395.5 167.7 397.9 168.5M394.0 168.2Q396.3 166.9 399.4 168.1M394.4 168.6Q396.5 168.3 398.4 169.4M367.8 176.9Q368.7 178.5 367.9 180.5M367.2 176.8Q367.5 179.1 365.1 180.8M367.3 177.5Q367.3 178.4 366.8 179.3M366.9 176.7Q366.2 178.9 363.4 179.7M366.7 176.8Q365.8 178.7 363.0 179.2M365.6 175.0Q364.7 174.1 364.6 172.8M392.0 176.0Q394.5 176.4 395.4 178.4M392.5 176.8Q394.2 178.3 392.5 180.5M391.7 176.4Q394.0 178.2 391.5 180.6M392.2 177.1Q393.2 179.0 390.4 180.8M391.6 177.5Q391.6 178.7 390.1 179.7M390.8 176.6Q389.8 178.3 386.4 178.5M390.2 177.4Q389.2 178.3 387.2 178.5M389.9 176.8Q387.4 177.9 384.2 176.5M390.3 176.4Q387.4 177.5 384.3 175.6M390.0 176.2Q386.0 176.5 384.5 173.2M389.3 176.7Q387.2 177.1 385.0 176.0M389.6 175.8Q387.3 175.1 386.9 173.1M388.4 175.9Q386.2 175.2 385.5 173.2M402.8 141.8Q404.0 141.0 404.2 138.8M402.2 142.4Q403.0 143.8 404.6 143.3M402.0 143.6Q402.3 144.5 402.9 145.1M401.8 142.5Q401.5 144.2 402.6 145.6M401.6 142.9Q401.0 145.4 403.2 147.1M401.4 142.1Q400.1 142.6 399.7 144.8M401.1 142.2Q399.8 143.0 399.7 145.4M401.5 141.8Q400.3 141.4 399.4 142.8M401.7 141.6Q400.4 140.5 398.9 142.0M402.3 141.2Q402.6 139.5 401.4 138.0M402.9 141.1Q403.4 140.2 403.4 138.9M403.1 141.2Q403.8 140.1 403.6 138.5M405.0 155.3Q407.1 155.6 408.9 154.0M406.2 155.7Q407.9 155.8 409.5 154.6M405.0 155.2Q408.9 155.5 410.4 150.7M404.6 156.9Q405.9 158.9 408.6 159.2M403.9 157.6Q404.5 159.6 406.5 160.8M404.4 156.2Q406.0 159.4 410.5 158.7M404.1 157.3Q404.9 159.6 407.8 160.6M403.1 157.4Q403.0 160.4 406.3 162.5M402.5 157.0Q401.7 159.2 403.2 161.7M403.3 156.0Q402.3 158.3 403.8 160.8M402.0 157.0Q401.2 158.8 401.8 160.9M402.7 155.3Q400.5 156.4 400.0 159.3M402.9 155.2Q400.7 155.8 399.8 158.3M402.8 155.0Q400.8 155.4 399.5 157.4M401.1 155.0Q398.9 155.7 397.8 158.3M401.2 154.4Q399.3 154.6 397.8 156.3M401.8 154.5Q400.0 154.6 398.5 156.2M403.3 154.3Q400.1 152.2 396.5 155.3M402.5 154.2Q399.7 153.4 397.2 155.8M402.2 153.4Q400.1 152.5 397.7 153.6M402.0 152.9Q400.2 152.1 397.9 152.8M402.9 152.8Q401.1 150.8 397.7 151.3M404.3 152.8Q404.1 150.4 401.6 148.9M404.2 153.9Q404.2 150.8 400.7 149.1M404.5 153.5Q404.9 150.1 401.2 148.0M406.0 152.9Q406.5 151.7 406.4 150.3M405.7 153.8Q407.3 151.9 406.6 149.0M405.7 153.3Q407.1 150.5 404.9 147.3M404.9 154.7Q406.8 153.9 407.5 151.6M405.1 154.6Q406.9 153.6 407.3 151.2M403.2 168.4Q403.8 168.9 404.1 169.9M403.2 168.2Q404.6 169.1 404.4 171.5M403.1 168.9Q403.8 170.1 403.2 171.9M402.5 169.3Q402.6 170.1 402.2 170.9M401.9 169.2Q401.5 170.7 399.8 170.9M401.7 168.5Q400.3 170.2 398.1 168.1M401.6 168.5Q400.4 169.4 399.0 168.4M400.7 168.7Q399.4 168.8 398.5 167.2M401.4 168.1Q399.5 167.8 399.3 164.9M401.3 167.6Q400.6 166.9 400.5 165.7M402.0 166.7Q402.6 165.1 404.5 164.9M402.2 167.2Q402.9 165.8 404.6 166.0M402.8 167.4Q404.0 166.9 405.2 168.2M403.1 167.7Q404.3 167.8 405.1 169.5M408.7 171.6Q407.2 169.7 407.9 166.8M410.4 172.4Q408.0 169.1 412.0 165.4M409.3 171.3Q407.8 168.3 410.6 165.1M409.8 171.4Q409.1 169.2 410.6 166.9M410.3 172.0Q409.3 170.1 410.5 167.8M410.2 171.4Q409.5 168.4 412.7 166.1M411.1 170.4Q411.6 169.3 412.7 168.4M411.1 171.4Q411.6 169.6 413.5 168.6M438.3 157.8Q442.0 157.7 444.5 161.6M440.2 157.6Q442.8 158.1 444.7 160.5M439.6 158.6Q441.6 159.5 442.8 161.9M437.8 158.6Q439.9 160.5 440.2 163.7M439.3 160.5Q439.9 161.7 440.1 163.1M438.2 160.1Q439.0 162.3 438.3 164.8M437.4 160.8Q437.2 164.3 434.1 166.8M436.7 159.2Q435.8 161.5 433.6 162.7M437.3 160.8Q436.9 164.3 433.7 166.5M436.3 160.8Q434.9 163.6 431.5 164.6M436.4 160.1Q434.9 163.3 431.1 164.1M435.3 157.1Q433.1 155.4 432.6 152.1M437.4 156.7Q438.7 153.8 441.9 152.8M437.9 155.5Q439.7 152.6 443.5 152.1M438.3 156.6Q440.9 154.6 444.6 155.7M438.0 155.6Q439.1 154.0 440.9 153.2M439.6 156.5Q441.6 156.0 443.7 156.8M438.7 157.5Q441.1 157.3 443.4 159.0M438.2 157.3Q441.5 155.8 444.9 158.2M438.7 157.8Q442.4 158.1 444.5 162.1M432.7 168.2Q435.3 167.8 437.0 168.8M431.4 168.9Q435.1 168.9 434.7 171.8M431.4 169.8Q432.6 171.3 430.1 173.8M430.7 169.4Q431.8 170.6 430.3 172.6M430.6 170.1Q430.7 171.1 429.4 172.5M428.5 170.9Q426.2 172.8 422.2 173.5M429.2 170.4Q428.2 171.4 426.5 172.3M426.9 170.0Q425.5 170.2 424.4 170.0M428.5 169.3Q426.3 169.7 424.8 169.0M428.0 169.1Q426.2 169.0 425.5 168.0M428.4 168.4Q427.5 167.8 427.7 166.6M428.5 168.0Q428.0 167.1 428.7 165.8M428.4 168.3Q427.6 167.6 428.0 166.3M429.9 168.3Q430.2 166.0 434.9 163.8M430.2 168.3Q430.7 166.9 432.8 165.6M431.6 167.1Q432.9 166.1 434.8 165.3M431.4 168.0Q434.4 166.2 438.1 166.4M431.8 167.8Q434.6 166.5 437.8 166.7M432.4 167.3Q434.2 166.5 436.2 166.2M324.1 182.9Q325.7 182.6 326.7 180.7M324.8 183.3Q326.1 183.2 327.3 181.9M324.6 183.5Q325.7 183.7 326.8 182.9M324.6 183.9Q326.3 184.8 328.1 183.4M322.5 185.2Q322.0 187.3 322.8 189.5M322.3 184.5Q321.7 185.6 321.6 187.1M323.1 183.5Q321.7 185.9 322.5 189.3M321.6 183.1Q320.7 183.4 320.1 184.3M321.9 182.8Q320.4 183.0 319.2 184.9M322.6 182.4Q320.8 181.6 319.0 183.2M322.1 182.3Q320.8 182.1 319.6 183.0M322.7 182.0Q321.2 180.5 319.1 181.4M323.1 180.7Q322.6 179.4 321.6 178.5M323.2 180.8Q322.6 178.6 320.8 177.6M324.3 181.0Q324.6 179.5 324.3 177.9M324.1 180.8Q324.3 179.6 324.0 178.4M324.9 181.5Q326.0 179.8 325.8 177.1M324.4 182.4Q326.0 180.8 326.1 177.6M325.0 182.0Q325.7 181.1 326.1 179.7M332.6 184.0Q331.5 185.9 332.1 189.0M332.4 182.4Q330.8 182.7 330.0 186.0M332.7 181.8Q331.0 181.4 329.7 184.2M333.2 182.2Q331.4 181.1 329.8 184.4M355.4 180.6Q358.5 180.5 360.8 179.7M356.4 180.6Q358.9 180.4 361.0 179.9M353.7 180.8Q356.5 181.2 359.9 181.0M353.4 181.2Q356.0 182.0 360.6 182.0M350.2 180.2Q347.3 179.9 344.2 180.3M350.9 179.9Q348.4 179.0 343.6 178.9M352.0 179.9Q351.4 178.9 347.9 178.3M352.0 180.1Q351.5 178.7 345.7 178.1M352.1 179.8Q351.5 178.8 348.4 178.2M353.3 179.8Q354.3 178.8 351.9 177.8M354.2 179.7Q355.5 178.9 354.4 177.9M354.3 180.3Q357.9 179.7 358.5 178.3M355.7 180.4Q359.7 180.0 361.3 178.6M354.3 191.6Q356.9 193.2 355.8 196.7M353.9 192.5Q354.9 194.1 353.9 196.3M354.4 191.9Q355.6 192.8 355.8 194.4M352.8 191.9Q354.2 194.2 351.4 197.3M352.8 192.0Q353.9 194.2 351.5 196.9M352.5 191.9Q353.4 195.1 348.3 198.2M352.3 193.7Q351.7 195.3 350.0 196.8M350.7 188.9Q350.3 186.3 353.8 183.5M338.0 201.6Q340.8 201.5 342.4 199.0M339.7 202.1Q341.7 202.1 343.4 200.6M338.6 202.0Q342.4 202.5 344.7 198.8M338.5 202.2Q340.7 202.8 343.0 201.5M338.3 202.6Q341.0 203.9 344.3 202.2M337.4 202.9Q338.6 205.1 342.0 205.4M336.8 203.3Q337.2 205.2 339.3 206.4M336.6 204.2Q337.3 206.7 340.8 207.9M336.7 202.9Q336.7 205.2 339.5 206.8M335.5 204.0Q335.3 205.2 335.9 206.4M335.5 203.6Q334.9 206.4 337.9 208.7M335.2 203.7Q334.7 205.6 336.1 207.6M334.3 202.1Q332.5 203.2 332.0 205.4M333.8 202.6Q331.9 204.1 332.0 206.8M334.2 202.2Q332.1 203.5 331.9 206.2M333.6 201.1Q330.2 201.9 329.1 205.7M333.8 201.2Q330.8 201.8 329.5 205.0M334.0 200.3Q330.5 200.1 328.0 203.5M335.3 199.6Q332.9 198.2 329.5 199.3M336.1 200.0Q333.1 197.3 327.9 199.7M336.2 199.9Q333.6 197.2 328.6 198.8M339.1 201.2Q342.2 200.0 342.3 196.3M338.9 201.4Q341.8 200.7 342.7 197.6M349.4 201.3Q351.8 201.9 353.2 203.6M348.1 201.0Q351.9 201.2 354.1 203.9M349.1 199.4Q350.4 198.9 352.0 198.7M349.1 199.2Q351.7 197.8 355.5 198.3M349.1 199.7Q351.4 198.9 354.3 199.3M348.0 200.8Q351.7 200.3 354.8 202.5M357.5 205.0Q360.0 204.5 360.8 202.2M357.1 205.0Q359.6 204.5 360.5 202.3M358.0 205.6Q360.3 205.7 362.2 204.0M358.1 205.9Q360.2 206.2 362.3 204.9M357.1 205.8Q359.7 206.9 362.7 205.3M356.7 206.8Q358.2 208.3 361.3 208.2M356.8 206.0Q358.2 207.3 360.8 207.1M355.9 205.7Q356.3 208.5 361.1 208.9M354.3 205.1Q351.2 206.1 351.4 209.4M330.6 217.3Q330.5 220.5 327.2 222.0M328.4 213.6Q327.4 212.1 327.8 209.8M329.3 214.2Q327.9 211.8 329.6 208.7M328.8 212.4Q328.7 210.7 329.6 209.1M329.8 213.2Q330.0 210.7 332.5 209.4M329.9 213.6Q330.1 211.4 332.0 210.2M367.0 183.1Q369.3 182.6 370.3 179.8M366.6 182.7Q367.8 182.1 368.5 180.8M385.4 183.5Q388.3 183.5 390.2 181.1M384.5 183.1Q387.3 182.9 388.7 180.4M385.6 184.2Q387.3 184.7 389.1 184.1M384.4 183.5Q388.0 184.7 391.0 181.5M384.7 184.9Q386.9 186.7 390.6 185.9M383.9 183.8Q386.1 186.6 391.0 185.3M384.7 184.8Q386.6 186.4 389.8 185.9M384.9 181.4Q385.9 178.9 383.2 176.4M385.6 181.6Q386.8 180.1 386.1 177.9M385.0 182.7Q387.5 181.8 388.0 179.1M384.4 182.8Q387.5 181.8 387.5 178.4M396.3 181.8Q397.1 183.1 399.4 183.8M396.5 182.5Q397.3 183.6 399.2 184.3M395.2 182.1Q394.9 183.1 395.5 184.2M395.6 181.7Q395.0 183.2 396.8 184.7M393.8 181.9Q391.9 183.2 392.3 185.1M395.0 181.2Q392.7 181.8 391.8 183.5M394.8 181.0Q392.8 181.2 391.3 182.0M393.4 180.9Q391.8 181.1 390.4 181.8M393.9 180.4Q392.6 180.2 391.1 180.4M394.6 180.7Q392.5 180.3 390.3 181.0M395.1 180.4Q393.3 179.3 390.3 179.4M379.9 199.1Q379.9 202.4 383.1 204.0M379.6 200.7Q379.8 202.2 380.8 203.5M379.7 198.9Q379.1 201.3 380.5 203.5M379.6 198.9Q378.8 201.0 379.8 203.3M378.9 198.9Q377.1 201.0 378.0 204.6M379.4 198.6Q378.1 200.2 378.3 202.7M379.1 198.1Q377.2 198.5 376.1 200.9M378.2 198.3Q376.4 199.3 375.7 201.9M374.3 209.2Q374.3 211.1 372.5 212.6M373.2 209.8Q372.4 211.0 370.8 211.7M373.4 208.6Q372.4 210.1 370.2 210.6M372.7 208.6Q370.4 209.8 367.4 208.7M373.1 207.6Q370.0 207.7 368.1 204.8M373.2 207.3Q370.9 206.5 370.1 204.1M372.6 207.3Q369.7 206.5 368.9 203.2M372.8 206.8Q371.4 205.7 371.1 203.8M372.8 205.9Q372.2 204.5 372.6 202.9M373.8 206.8Q373.2 204.1 376.0 201.9M372.9 205.6Q372.4 203.3 374.2 201.1M374.4 205.5Q375.1 204.0 376.9 203.2M375.2 205.5Q376.9 203.9 379.9 204.0M375.8 205.8Q377.5 205.0 379.5 205.2M375.2 206.2Q377.4 204.7 380.6 205.5M366.1 210.5Q367.3 210.0 367.9 209.0M364.5 211.3Q367.1 212.4 370.0 210.7M366.0 211.6Q367.3 211.7 368.7 211.2M364.8 212.0Q366.2 213.2 368.5 213.2M364.3 212.3Q364.9 213.3 366.3 214.0M363.7 212.1Q363.5 213.5 364.9 214.8M363.9 212.4Q364.1 213.3 364.9 214.1M363.1 212.1Q362.3 213.8 363.7 215.6M362.4 211.9Q361.8 212.4 361.5 213.2M362.3 211.1Q360.4 211.6 359.4 213.2M363.2 211.1Q361.8 211.3 360.7 212.3M362.7 210.6Q360.4 210.3 358.4 211.7M362.3 210.3Q360.9 210.1 359.4 210.5M364.3 210.0Q364.6 208.0 362.1 206.5M365.1 209.6Q365.6 208.4 365.0 207.1M365.0 210.2Q366.2 208.6 365.2 206.6M365.7 210.2Q366.5 209.7 366.9 208.9M366.0 210.6Q367.3 210.1 368.0 209.1M405.4 177.6Q407.4 176.3 408.1 172.8M405.3 179.2Q407.1 180.1 409.0 178.6M405.1 179.3Q407.0 180.7 409.2 179.3M404.6 178.9Q405.7 180.1 407.1 180.1M404.4 180.6Q404.8 181.8 405.6 182.7M404.3 179.4Q404.9 181.3 406.2 182.3M404.2 179.5Q405.0 182.4 407.4 183.5M403.6 179.8Q403.2 182.3 404.3 184.7M403.1 180.6Q402.9 181.6 403.0 182.8M403.1 179.9Q402.3 182.4 403.1 185.4M404.0 175.6Q403.7 173.7 402.7 172.3M404.1 176.3Q404.0 173.7 402.6 171.8M404.8 176.1Q405.5 173.7 404.8 170.9M405.1 176.8Q405.9 175.7 406.2 174.1M405.0 176.8Q406.2 174.9 406.1 171.9M405.6 178.1Q406.8 177.7 407.8 176.4M415.4 177.1Q415.9 177.2 416.4 177.6M414.9 177.9Q415.4 178.7 415.3 179.7M414.5 178.1Q414.8 179.6 413.7 180.9M413.8 178.2Q413.3 179.4 411.8 180.0M413.5 178.2Q412.8 179.2 411.2 179.5M413.4 178.1Q412.4 179.2 410.6 179.1M413.0 177.3Q412.0 177.4 411.0 176.8M413.1 177.2Q411.9 177.3 410.8 176.5M413.5 176.7Q412.4 175.8 412.4 174.2M413.9 176.0Q413.9 175.0 414.7 174.2M413.8 176.4Q413.7 175.1 414.6 174.0M414.5 175.8Q415.2 174.9 416.5 174.7M415.0 176.0Q416.0 175.4 417.3 175.7M414.6 176.8Q416.4 176.5 417.7 178.1M419.6 186.4Q422.5 186.4 424.3 187.9M419.7 186.7Q421.5 187.1 422.4 188.2M419.1 186.6Q422.0 187.0 423.0 188.9M420.3 186.8Q422.0 187.3 422.9 188.5M418.8 187.7Q419.2 188.9 418.2 190.3M418.8 187.2Q420.1 188.8 418.5 190.9M418.3 186.9Q419.0 188.3 417.7 189.9M417.5 187.4Q416.1 189.0 413.1 189.9M417.6 187.5Q416.5 189.3 413.4 190.4M416.8 187.2Q415.1 187.9 413.0 188.1M417.2 186.8Q415.3 187.5 413.1 187.5M416.8 186.7Q414.3 187.0 412.4 186.2M417.1 186.7Q414.3 187.4 411.8 186.5M416.6 186.3Q414.5 185.9 413.5 184.6M416.6 186.2Q414.0 185.4 413.8 183.2M417.3 186.1Q415.2 184.6 416.5 182.2M417.8 185.0Q418.0 184.2 418.7 183.4M418.4 185.4Q419.0 184.4 420.3 183.6M418.6 185.8Q420.5 183.9 424.4 183.4M418.9 185.8Q421.2 184.4 424.5 184.3M418.9 186.1Q422.1 185.0 425.3 185.9M442.4 174.3Q444.1 174.4 445.0 175.9M441.9 174.8Q442.6 175.4 442.5 176.4M442.4 175.2Q443.0 176.1 442.5 177.2M441.6 175.3Q441.5 176.2 440.6 176.8M440.6 175.2Q439.9 175.6 439.0 175.5M440.6 175.1Q439.4 175.5 438.1 174.9M440.8 174.2Q439.7 173.6 439.7 172.4" stroke="#ec1c1c" stroke-width="0.85" fill="none" stroke-linecap="round"/>
<circle cx="336.7" cy="158" r="1.4" fill="#a8c8f4"/>
<circle cx="348.3" cy="161.3" r="1.4" fill="#a8c8f4"/>
<circle cx="336" cy="175" r="1.4" fill="#a8c8f4"/>
<circle cx="367" cy="155" r="1.2" fill="#a8c8f4"/>
<circle cx="381" cy="155" r="1.4" fill="#a8c8f4"/>
<circle cx="383" cy="145" r="1.2" fill="#a8c8f4"/>
<circle cx="395" cy="154" r="1.1" fill="#a8c8f4"/>
<circle cx="373" cy="166" r="1.4" fill="#a8c8f4"/>
<circle cx="384" cy="167" r="1.1" fill="#a8c8f4"/>
<circle cx="404" cy="155" r="1.6" fill="#d8e8f8"/>
<circle cx="411" cy="173" r="1.6" fill="#f4d840"/>
<circle cx="437" cy="158" r="1.8" fill="#a8c8f4"/>
<circle cx="352" cy="191" r="1.5" fill="#a8c8f4"/>
<circle cx="337" cy="201.5" r="1.6" fill="#a8c8f4"/>
<circle cx="347" cy="201" r="1.4" fill="#a8c8f4"/>
<circle cx="383.5" cy="183" r="1.4" fill="#a8c8f4"/>
<circle cx="380" cy="198" r="1.4" fill="#f4d840"/>
<circle cx="418" cy="186.5" r="1.0" fill="#a8c8f4"/>
</g>
<rect x="320.8" y="139.2" width="123.5" height="81.8" fill="none" stroke="#7a7a7a" stroke-width="1.1"/>
<text x="327.7" y="133.9" font-size="8.8" font-style="italic" text-anchor="middle" letter-spacing="0.3">(d)</text>
</svg></body></html>
